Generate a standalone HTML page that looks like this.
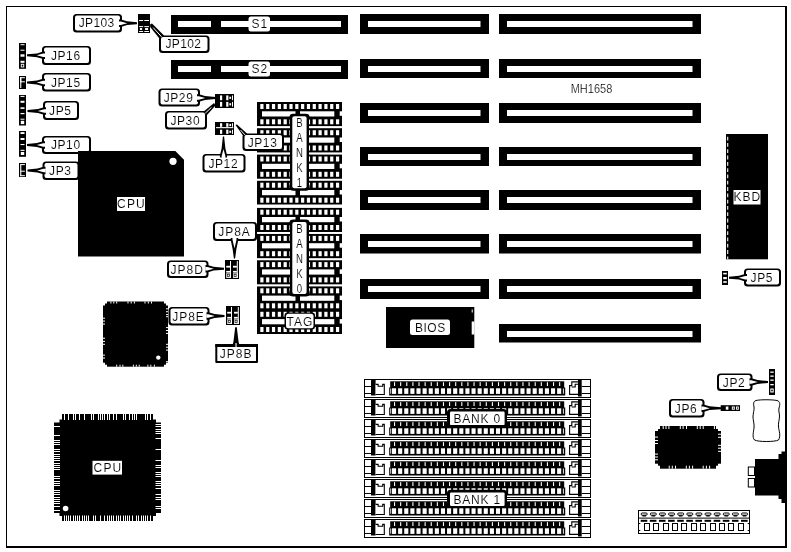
<!DOCTYPE html>
<html><head><meta charset="utf-8"><title>MH1658</title>
<style>
html,body{margin:0;padding:0;background:#fff;}
body{width:791px;height:552px;overflow:hidden;}
svg{display:block;font-family:"Liberation Sans",sans-serif;will-change:transform;}
text{stroke:#fff;stroke-width:0.12px;}
</style></head><body>
<svg width="791" height="552" viewBox="0 0 791 552">
<rect x="0" y="0" width="791" height="552" fill="#fff"/>
<rect x="6" y="6" width="781" height="1" fill="#000"/>
<rect x="6" y="6" width="1" height="542" fill="#000"/>
<rect x="785" y="6" width="2" height="542" fill="#000"/>
<rect x="6" y="546" width="781" height="2" fill="#000"/>
<rect x="171" y="15" width="177" height="19" fill="#000"/>
<rect x="178" y="21" width="33" height="6" fill="#fff"/>
<rect x="221" y="21" width="120" height="6" fill="#fff"/>
<rect x="248.5" y="16.5" width="21.5" height="15" rx="2.5" fill="#fff"/>
<text x="259.8" y="28.3" font-size="12" letter-spacing="1" text-anchor="middle" fill="#000">S1</text>
<rect x="171" y="60" width="177" height="19" fill="#000"/>
<rect x="178" y="66" width="33" height="6" fill="#fff"/>
<rect x="221" y="66" width="120" height="6" fill="#fff"/>
<rect x="248.5" y="61.5" width="21.5" height="15" rx="2.5" fill="#fff"/>
<text x="259.8" y="73.3" font-size="12" letter-spacing="1" text-anchor="middle" fill="#000">S2</text>
<rect x="360" y="14" width="129" height="20" fill="#000"/>
<rect x="368" y="21" width="112.5" height="6" fill="#fff"/>
<rect x="360" y="59" width="129" height="19" fill="#000"/>
<rect x="368" y="66" width="112.5" height="6" fill="#fff"/>
<rect x="360" y="103" width="129" height="20" fill="#000"/>
<rect x="368" y="110" width="112.5" height="6" fill="#fff"/>
<rect x="360" y="147" width="129" height="19" fill="#000"/>
<rect x="368" y="154" width="112.5" height="6" fill="#fff"/>
<rect x="360" y="190" width="129" height="20" fill="#000"/>
<rect x="368" y="197" width="112.5" height="6" fill="#fff"/>
<rect x="360" y="234" width="129" height="19.5" fill="#000"/>
<rect x="368" y="241" width="112.5" height="6" fill="#fff"/>
<rect x="360" y="279" width="129" height="20" fill="#000"/>
<rect x="368" y="286" width="112.5" height="6" fill="#fff"/>
<rect x="499" y="14" width="202" height="20" fill="#000"/>
<rect x="507" y="21" width="185.5" height="6" fill="#fff"/>
<rect x="499" y="59" width="202" height="19" fill="#000"/>
<rect x="507" y="66" width="185.5" height="6" fill="#fff"/>
<rect x="499" y="103" width="202" height="20" fill="#000"/>
<rect x="507" y="110" width="185.5" height="6" fill="#fff"/>
<rect x="499" y="147" width="202" height="19" fill="#000"/>
<rect x="507" y="154" width="185.5" height="6" fill="#fff"/>
<rect x="499" y="190" width="202" height="20" fill="#000"/>
<rect x="507" y="197" width="185.5" height="6" fill="#fff"/>
<rect x="499" y="234" width="202" height="19.5" fill="#000"/>
<rect x="507" y="241" width="185.5" height="6" fill="#fff"/>
<rect x="499" y="279" width="202" height="20" fill="#000"/>
<rect x="507" y="286" width="185.5" height="6" fill="#fff"/>
<rect x="499" y="324" width="202" height="18.5" fill="#000"/>
<rect x="507" y="331" width="185.5" height="6" fill="#fff"/>
<rect x="257" y="102" width="85" height="24.3" fill="#000"/>
<rect x="260.3" y="104" width="3.2" height="5" fill="#fff"/>
<rect x="260.3" y="119.3" width="3.2" height="5" fill="#fff"/>
<rect x="266.12" y="104" width="3.2" height="5" fill="#fff"/>
<rect x="266.12" y="119.3" width="3.2" height="5" fill="#fff"/>
<rect x="271.94" y="104" width="3.2" height="5" fill="#fff"/>
<rect x="271.94" y="119.3" width="3.2" height="5" fill="#fff"/>
<rect x="277.76" y="104" width="3.2" height="5" fill="#fff"/>
<rect x="277.76" y="119.3" width="3.2" height="5" fill="#fff"/>
<rect x="283.58" y="104" width="3.2" height="5" fill="#fff"/>
<rect x="283.58" y="119.3" width="3.2" height="5" fill="#fff"/>
<rect x="289.4" y="104" width="3.2" height="5" fill="#fff"/>
<rect x="289.4" y="119.3" width="3.2" height="5" fill="#fff"/>
<rect x="295.22" y="104" width="3.2" height="5" fill="#fff"/>
<rect x="295.22" y="119.3" width="3.2" height="5" fill="#fff"/>
<rect x="301.04" y="104" width="3.2" height="5" fill="#fff"/>
<rect x="301.04" y="119.3" width="3.2" height="5" fill="#fff"/>
<rect x="306.86" y="104" width="3.2" height="5" fill="#fff"/>
<rect x="306.86" y="119.3" width="3.2" height="5" fill="#fff"/>
<rect x="312.68" y="104" width="3.2" height="5" fill="#fff"/>
<rect x="312.68" y="119.3" width="3.2" height="5" fill="#fff"/>
<rect x="318.5" y="104" width="3.2" height="5" fill="#fff"/>
<rect x="318.5" y="119.3" width="3.2" height="5" fill="#fff"/>
<rect x="324.32" y="104" width="3.2" height="5" fill="#fff"/>
<rect x="324.32" y="119.3" width="3.2" height="5" fill="#fff"/>
<rect x="330.14" y="104" width="3.2" height="5" fill="#fff"/>
<rect x="330.14" y="119.3" width="3.2" height="5" fill="#fff"/>
<rect x="335.96" y="104" width="3.2" height="5" fill="#fff"/>
<rect x="335.96" y="119.3" width="3.2" height="5" fill="#fff"/>
<rect x="262" y="111.3" width="72.3" height="5.2" fill="#fff"/>
<rect x="339.7" y="111.3" width="2.3" height="4.5" fill="#fff"/>
<rect x="295.5" y="110" width="4.5" height="8" fill="#000"/>
<rect x="257" y="128.2" width="85" height="24.3" fill="#000"/>
<rect x="260.3" y="130.2" width="3.2" height="5" fill="#fff"/>
<rect x="260.3" y="145.5" width="3.2" height="5" fill="#fff"/>
<rect x="266.12" y="130.2" width="3.2" height="5" fill="#fff"/>
<rect x="266.12" y="145.5" width="3.2" height="5" fill="#fff"/>
<rect x="271.94" y="130.2" width="3.2" height="5" fill="#fff"/>
<rect x="271.94" y="145.5" width="3.2" height="5" fill="#fff"/>
<rect x="277.76" y="130.2" width="3.2" height="5" fill="#fff"/>
<rect x="277.76" y="145.5" width="3.2" height="5" fill="#fff"/>
<rect x="283.58" y="130.2" width="3.2" height="5" fill="#fff"/>
<rect x="283.58" y="145.5" width="3.2" height="5" fill="#fff"/>
<rect x="289.4" y="130.2" width="3.2" height="5" fill="#fff"/>
<rect x="289.4" y="145.5" width="3.2" height="5" fill="#fff"/>
<rect x="295.22" y="130.2" width="3.2" height="5" fill="#fff"/>
<rect x="295.22" y="145.5" width="3.2" height="5" fill="#fff"/>
<rect x="301.04" y="130.2" width="3.2" height="5" fill="#fff"/>
<rect x="301.04" y="145.5" width="3.2" height="5" fill="#fff"/>
<rect x="306.86" y="130.2" width="3.2" height="5" fill="#fff"/>
<rect x="306.86" y="145.5" width="3.2" height="5" fill="#fff"/>
<rect x="312.68" y="130.2" width="3.2" height="5" fill="#fff"/>
<rect x="312.68" y="145.5" width="3.2" height="5" fill="#fff"/>
<rect x="318.5" y="130.2" width="3.2" height="5" fill="#fff"/>
<rect x="318.5" y="145.5" width="3.2" height="5" fill="#fff"/>
<rect x="324.32" y="130.2" width="3.2" height="5" fill="#fff"/>
<rect x="324.32" y="145.5" width="3.2" height="5" fill="#fff"/>
<rect x="330.14" y="130.2" width="3.2" height="5" fill="#fff"/>
<rect x="330.14" y="145.5" width="3.2" height="5" fill="#fff"/>
<rect x="335.96" y="130.2" width="3.2" height="5" fill="#fff"/>
<rect x="335.96" y="145.5" width="3.2" height="5" fill="#fff"/>
<rect x="262" y="137.5" width="72.3" height="5.2" fill="#fff"/>
<rect x="339.7" y="137.5" width="2.3" height="4.5" fill="#fff"/>
<rect x="257" y="154.5" width="85" height="24.3" fill="#000"/>
<rect x="260.3" y="156.5" width="3.2" height="5" fill="#fff"/>
<rect x="260.3" y="171.8" width="3.2" height="5" fill="#fff"/>
<rect x="266.12" y="156.5" width="3.2" height="5" fill="#fff"/>
<rect x="266.12" y="171.8" width="3.2" height="5" fill="#fff"/>
<rect x="271.94" y="156.5" width="3.2" height="5" fill="#fff"/>
<rect x="271.94" y="171.8" width="3.2" height="5" fill="#fff"/>
<rect x="277.76" y="156.5" width="3.2" height="5" fill="#fff"/>
<rect x="277.76" y="171.8" width="3.2" height="5" fill="#fff"/>
<rect x="283.58" y="156.5" width="3.2" height="5" fill="#fff"/>
<rect x="283.58" y="171.8" width="3.2" height="5" fill="#fff"/>
<rect x="289.4" y="156.5" width="3.2" height="5" fill="#fff"/>
<rect x="289.4" y="171.8" width="3.2" height="5" fill="#fff"/>
<rect x="295.22" y="156.5" width="3.2" height="5" fill="#fff"/>
<rect x="295.22" y="171.8" width="3.2" height="5" fill="#fff"/>
<rect x="301.04" y="156.5" width="3.2" height="5" fill="#fff"/>
<rect x="301.04" y="171.8" width="3.2" height="5" fill="#fff"/>
<rect x="306.86" y="156.5" width="3.2" height="5" fill="#fff"/>
<rect x="306.86" y="171.8" width="3.2" height="5" fill="#fff"/>
<rect x="312.68" y="156.5" width="3.2" height="5" fill="#fff"/>
<rect x="312.68" y="171.8" width="3.2" height="5" fill="#fff"/>
<rect x="318.5" y="156.5" width="3.2" height="5" fill="#fff"/>
<rect x="318.5" y="171.8" width="3.2" height="5" fill="#fff"/>
<rect x="324.32" y="156.5" width="3.2" height="5" fill="#fff"/>
<rect x="324.32" y="171.8" width="3.2" height="5" fill="#fff"/>
<rect x="330.14" y="156.5" width="3.2" height="5" fill="#fff"/>
<rect x="330.14" y="171.8" width="3.2" height="5" fill="#fff"/>
<rect x="335.96" y="156.5" width="3.2" height="5" fill="#fff"/>
<rect x="335.96" y="171.8" width="3.2" height="5" fill="#fff"/>
<rect x="262" y="163.8" width="72.3" height="5.2" fill="#fff"/>
<rect x="339.7" y="163.8" width="2.3" height="4.5" fill="#fff"/>
<rect x="257" y="180.7" width="85" height="24" fill="#000"/>
<rect x="260.3" y="182.7" width="3.2" height="5" fill="#fff"/>
<rect x="260.3" y="197.7" width="3.2" height="5" fill="#fff"/>
<rect x="266.12" y="182.7" width="3.2" height="5" fill="#fff"/>
<rect x="266.12" y="197.7" width="3.2" height="5" fill="#fff"/>
<rect x="271.94" y="182.7" width="3.2" height="5" fill="#fff"/>
<rect x="271.94" y="197.7" width="3.2" height="5" fill="#fff"/>
<rect x="277.76" y="182.7" width="3.2" height="5" fill="#fff"/>
<rect x="277.76" y="197.7" width="3.2" height="5" fill="#fff"/>
<rect x="283.58" y="182.7" width="3.2" height="5" fill="#fff"/>
<rect x="283.58" y="197.7" width="3.2" height="5" fill="#fff"/>
<rect x="289.4" y="182.7" width="3.2" height="5" fill="#fff"/>
<rect x="289.4" y="197.7" width="3.2" height="5" fill="#fff"/>
<rect x="295.22" y="182.7" width="3.2" height="5" fill="#fff"/>
<rect x="295.22" y="197.7" width="3.2" height="5" fill="#fff"/>
<rect x="301.04" y="182.7" width="3.2" height="5" fill="#fff"/>
<rect x="301.04" y="197.7" width="3.2" height="5" fill="#fff"/>
<rect x="306.86" y="182.7" width="3.2" height="5" fill="#fff"/>
<rect x="306.86" y="197.7" width="3.2" height="5" fill="#fff"/>
<rect x="312.68" y="182.7" width="3.2" height="5" fill="#fff"/>
<rect x="312.68" y="197.7" width="3.2" height="5" fill="#fff"/>
<rect x="318.5" y="182.7" width="3.2" height="5" fill="#fff"/>
<rect x="318.5" y="197.7" width="3.2" height="5" fill="#fff"/>
<rect x="324.32" y="182.7" width="3.2" height="5" fill="#fff"/>
<rect x="324.32" y="197.7" width="3.2" height="5" fill="#fff"/>
<rect x="330.14" y="182.7" width="3.2" height="5" fill="#fff"/>
<rect x="330.14" y="197.7" width="3.2" height="5" fill="#fff"/>
<rect x="335.96" y="182.7" width="3.2" height="5" fill="#fff"/>
<rect x="335.96" y="197.7" width="3.2" height="5" fill="#fff"/>
<rect x="262" y="190" width="72.3" height="5.2" fill="#fff"/>
<rect x="339.7" y="190" width="2.3" height="4.5" fill="#fff"/>
<rect x="295.5" y="188.7" width="4.5" height="8" fill="#000"/>
<rect x="257" y="207.7" width="85" height="24.3" fill="#000"/>
<rect x="260.3" y="209.7" width="3.2" height="5" fill="#fff"/>
<rect x="260.3" y="225" width="3.2" height="5" fill="#fff"/>
<rect x="266.12" y="209.7" width="3.2" height="5" fill="#fff"/>
<rect x="266.12" y="225" width="3.2" height="5" fill="#fff"/>
<rect x="271.94" y="209.7" width="3.2" height="5" fill="#fff"/>
<rect x="271.94" y="225" width="3.2" height="5" fill="#fff"/>
<rect x="277.76" y="209.7" width="3.2" height="5" fill="#fff"/>
<rect x="277.76" y="225" width="3.2" height="5" fill="#fff"/>
<rect x="283.58" y="209.7" width="3.2" height="5" fill="#fff"/>
<rect x="283.58" y="225" width="3.2" height="5" fill="#fff"/>
<rect x="289.4" y="209.7" width="3.2" height="5" fill="#fff"/>
<rect x="289.4" y="225" width="3.2" height="5" fill="#fff"/>
<rect x="295.22" y="209.7" width="3.2" height="5" fill="#fff"/>
<rect x="295.22" y="225" width="3.2" height="5" fill="#fff"/>
<rect x="301.04" y="209.7" width="3.2" height="5" fill="#fff"/>
<rect x="301.04" y="225" width="3.2" height="5" fill="#fff"/>
<rect x="306.86" y="209.7" width="3.2" height="5" fill="#fff"/>
<rect x="306.86" y="225" width="3.2" height="5" fill="#fff"/>
<rect x="312.68" y="209.7" width="3.2" height="5" fill="#fff"/>
<rect x="312.68" y="225" width="3.2" height="5" fill="#fff"/>
<rect x="318.5" y="209.7" width="3.2" height="5" fill="#fff"/>
<rect x="318.5" y="225" width="3.2" height="5" fill="#fff"/>
<rect x="324.32" y="209.7" width="3.2" height="5" fill="#fff"/>
<rect x="324.32" y="225" width="3.2" height="5" fill="#fff"/>
<rect x="330.14" y="209.7" width="3.2" height="5" fill="#fff"/>
<rect x="330.14" y="225" width="3.2" height="5" fill="#fff"/>
<rect x="335.96" y="209.7" width="3.2" height="5" fill="#fff"/>
<rect x="335.96" y="225" width="3.2" height="5" fill="#fff"/>
<rect x="262" y="217" width="72.3" height="5.2" fill="#fff"/>
<rect x="339.7" y="217" width="2.3" height="4.5" fill="#fff"/>
<rect x="295.5" y="215.7" width="4.5" height="8" fill="#000"/>
<rect x="257" y="233.9" width="85" height="24.3" fill="#000"/>
<rect x="260.3" y="235.9" width="3.2" height="5" fill="#fff"/>
<rect x="260.3" y="251.2" width="3.2" height="5" fill="#fff"/>
<rect x="266.12" y="235.9" width="3.2" height="5" fill="#fff"/>
<rect x="266.12" y="251.2" width="3.2" height="5" fill="#fff"/>
<rect x="271.94" y="235.9" width="3.2" height="5" fill="#fff"/>
<rect x="271.94" y="251.2" width="3.2" height="5" fill="#fff"/>
<rect x="277.76" y="235.9" width="3.2" height="5" fill="#fff"/>
<rect x="277.76" y="251.2" width="3.2" height="5" fill="#fff"/>
<rect x="283.58" y="235.9" width="3.2" height="5" fill="#fff"/>
<rect x="283.58" y="251.2" width="3.2" height="5" fill="#fff"/>
<rect x="289.4" y="235.9" width="3.2" height="5" fill="#fff"/>
<rect x="289.4" y="251.2" width="3.2" height="5" fill="#fff"/>
<rect x="295.22" y="235.9" width="3.2" height="5" fill="#fff"/>
<rect x="295.22" y="251.2" width="3.2" height="5" fill="#fff"/>
<rect x="301.04" y="235.9" width="3.2" height="5" fill="#fff"/>
<rect x="301.04" y="251.2" width="3.2" height="5" fill="#fff"/>
<rect x="306.86" y="235.9" width="3.2" height="5" fill="#fff"/>
<rect x="306.86" y="251.2" width="3.2" height="5" fill="#fff"/>
<rect x="312.68" y="235.9" width="3.2" height="5" fill="#fff"/>
<rect x="312.68" y="251.2" width="3.2" height="5" fill="#fff"/>
<rect x="318.5" y="235.9" width="3.2" height="5" fill="#fff"/>
<rect x="318.5" y="251.2" width="3.2" height="5" fill="#fff"/>
<rect x="324.32" y="235.9" width="3.2" height="5" fill="#fff"/>
<rect x="324.32" y="251.2" width="3.2" height="5" fill="#fff"/>
<rect x="330.14" y="235.9" width="3.2" height="5" fill="#fff"/>
<rect x="330.14" y="251.2" width="3.2" height="5" fill="#fff"/>
<rect x="335.96" y="235.9" width="3.2" height="5" fill="#fff"/>
<rect x="335.96" y="251.2" width="3.2" height="5" fill="#fff"/>
<rect x="262" y="243.2" width="72.3" height="5.2" fill="#fff"/>
<rect x="339.7" y="243.2" width="2.3" height="4.5" fill="#fff"/>
<rect x="257" y="260.1" width="85" height="24.3" fill="#000"/>
<rect x="260.3" y="262.1" width="3.2" height="5" fill="#fff"/>
<rect x="260.3" y="277.4" width="3.2" height="5" fill="#fff"/>
<rect x="266.12" y="262.1" width="3.2" height="5" fill="#fff"/>
<rect x="266.12" y="277.4" width="3.2" height="5" fill="#fff"/>
<rect x="271.94" y="262.1" width="3.2" height="5" fill="#fff"/>
<rect x="271.94" y="277.4" width="3.2" height="5" fill="#fff"/>
<rect x="277.76" y="262.1" width="3.2" height="5" fill="#fff"/>
<rect x="277.76" y="277.4" width="3.2" height="5" fill="#fff"/>
<rect x="283.58" y="262.1" width="3.2" height="5" fill="#fff"/>
<rect x="283.58" y="277.4" width="3.2" height="5" fill="#fff"/>
<rect x="289.4" y="262.1" width="3.2" height="5" fill="#fff"/>
<rect x="289.4" y="277.4" width="3.2" height="5" fill="#fff"/>
<rect x="295.22" y="262.1" width="3.2" height="5" fill="#fff"/>
<rect x="295.22" y="277.4" width="3.2" height="5" fill="#fff"/>
<rect x="301.04" y="262.1" width="3.2" height="5" fill="#fff"/>
<rect x="301.04" y="277.4" width="3.2" height="5" fill="#fff"/>
<rect x="306.86" y="262.1" width="3.2" height="5" fill="#fff"/>
<rect x="306.86" y="277.4" width="3.2" height="5" fill="#fff"/>
<rect x="312.68" y="262.1" width="3.2" height="5" fill="#fff"/>
<rect x="312.68" y="277.4" width="3.2" height="5" fill="#fff"/>
<rect x="318.5" y="262.1" width="3.2" height="5" fill="#fff"/>
<rect x="318.5" y="277.4" width="3.2" height="5" fill="#fff"/>
<rect x="324.32" y="262.1" width="3.2" height="5" fill="#fff"/>
<rect x="324.32" y="277.4" width="3.2" height="5" fill="#fff"/>
<rect x="330.14" y="262.1" width="3.2" height="5" fill="#fff"/>
<rect x="330.14" y="277.4" width="3.2" height="5" fill="#fff"/>
<rect x="335.96" y="262.1" width="3.2" height="5" fill="#fff"/>
<rect x="335.96" y="277.4" width="3.2" height="5" fill="#fff"/>
<rect x="262" y="269.4" width="72.3" height="5.2" fill="#fff"/>
<rect x="339.7" y="269.4" width="2.3" height="4.5" fill="#fff"/>
<rect x="257" y="286.3" width="85" height="24" fill="#000"/>
<rect x="260.3" y="288.3" width="3.2" height="5" fill="#fff"/>
<rect x="260.3" y="303.3" width="3.2" height="5" fill="#fff"/>
<rect x="266.12" y="288.3" width="3.2" height="5" fill="#fff"/>
<rect x="266.12" y="303.3" width="3.2" height="5" fill="#fff"/>
<rect x="271.94" y="288.3" width="3.2" height="5" fill="#fff"/>
<rect x="271.94" y="303.3" width="3.2" height="5" fill="#fff"/>
<rect x="277.76" y="288.3" width="3.2" height="5" fill="#fff"/>
<rect x="277.76" y="303.3" width="3.2" height="5" fill="#fff"/>
<rect x="283.58" y="288.3" width="3.2" height="5" fill="#fff"/>
<rect x="283.58" y="303.3" width="3.2" height="5" fill="#fff"/>
<rect x="289.4" y="288.3" width="3.2" height="5" fill="#fff"/>
<rect x="289.4" y="303.3" width="3.2" height="5" fill="#fff"/>
<rect x="295.22" y="288.3" width="3.2" height="5" fill="#fff"/>
<rect x="295.22" y="303.3" width="3.2" height="5" fill="#fff"/>
<rect x="301.04" y="288.3" width="3.2" height="5" fill="#fff"/>
<rect x="301.04" y="303.3" width="3.2" height="5" fill="#fff"/>
<rect x="306.86" y="288.3" width="3.2" height="5" fill="#fff"/>
<rect x="306.86" y="303.3" width="3.2" height="5" fill="#fff"/>
<rect x="312.68" y="288.3" width="3.2" height="5" fill="#fff"/>
<rect x="312.68" y="303.3" width="3.2" height="5" fill="#fff"/>
<rect x="318.5" y="288.3" width="3.2" height="5" fill="#fff"/>
<rect x="318.5" y="303.3" width="3.2" height="5" fill="#fff"/>
<rect x="324.32" y="288.3" width="3.2" height="5" fill="#fff"/>
<rect x="324.32" y="303.3" width="3.2" height="5" fill="#fff"/>
<rect x="330.14" y="288.3" width="3.2" height="5" fill="#fff"/>
<rect x="330.14" y="303.3" width="3.2" height="5" fill="#fff"/>
<rect x="335.96" y="288.3" width="3.2" height="5" fill="#fff"/>
<rect x="335.96" y="303.3" width="3.2" height="5" fill="#fff"/>
<rect x="262" y="295.6" width="72.3" height="5.2" fill="#fff"/>
<rect x="339.7" y="295.6" width="2.3" height="4.5" fill="#fff"/>
<rect x="295.5" y="294.3" width="4.5" height="8" fill="#000"/>
<rect x="257" y="126.3" width="85" height="1.4" fill="#fff"/>
<rect x="257" y="152.8" width="85" height="1.4" fill="#fff"/>
<rect x="257" y="178.9" width="85" height="1.4" fill="#fff"/>
<rect x="257" y="232.2" width="85" height="1.4" fill="#fff"/>
<rect x="257" y="258.8" width="85" height="1.4" fill="#fff"/>
<rect x="257" y="284.8" width="85" height="1.4" fill="#fff"/>
<rect x="257" y="204.7" width="85" height="3" fill="#fff"/>
<rect x="257" y="309.8" width="85" height="24.2" fill="#000"/>
<rect x="260.3" y="311.8" width="3.2" height="5" fill="#fff"/>
<rect x="260.3" y="327" width="3.2" height="5" fill="#fff"/>
<rect x="266.12" y="311.8" width="3.2" height="5" fill="#fff"/>
<rect x="266.12" y="327" width="3.2" height="5" fill="#fff"/>
<rect x="271.94" y="311.8" width="3.2" height="5" fill="#fff"/>
<rect x="271.94" y="327" width="3.2" height="5" fill="#fff"/>
<rect x="277.76" y="311.8" width="3.2" height="5" fill="#fff"/>
<rect x="277.76" y="327" width="3.2" height="5" fill="#fff"/>
<rect x="283.58" y="311.8" width="3.2" height="5" fill="#fff"/>
<rect x="283.58" y="327" width="3.2" height="5" fill="#fff"/>
<rect x="289.4" y="311.8" width="3.2" height="5" fill="#fff"/>
<rect x="289.4" y="327" width="3.2" height="5" fill="#fff"/>
<rect x="295.22" y="311.8" width="3.2" height="5" fill="#fff"/>
<rect x="295.22" y="327" width="3.2" height="5" fill="#fff"/>
<rect x="301.04" y="311.8" width="3.2" height="5" fill="#fff"/>
<rect x="301.04" y="327" width="3.2" height="5" fill="#fff"/>
<rect x="306.86" y="311.8" width="3.2" height="5" fill="#fff"/>
<rect x="306.86" y="327" width="3.2" height="5" fill="#fff"/>
<rect x="312.68" y="311.8" width="3.2" height="5" fill="#fff"/>
<rect x="312.68" y="327" width="3.2" height="5" fill="#fff"/>
<rect x="318.5" y="311.8" width="3.2" height="5" fill="#fff"/>
<rect x="318.5" y="327" width="3.2" height="5" fill="#fff"/>
<rect x="324.32" y="311.8" width="3.2" height="5" fill="#fff"/>
<rect x="324.32" y="327" width="3.2" height="5" fill="#fff"/>
<rect x="330.14" y="311.8" width="3.2" height="5" fill="#fff"/>
<rect x="330.14" y="327" width="3.2" height="5" fill="#fff"/>
<rect x="335.96" y="311.8" width="3.2" height="5" fill="#fff"/>
<rect x="335.96" y="327" width="3.2" height="5" fill="#fff"/>
<rect x="262" y="319.1" width="72.3" height="5.2" fill="#fff"/>
<rect x="339.7" y="319.1" width="2.3" height="4.5" fill="#fff"/>
<rect x="289.3" y="113.8" width="20.4" height="8" rx="4" fill="#000"/>
<rect x="289.3" y="182.7" width="20.4" height="8" rx="4" fill="#000"/>
<rect x="290" y="114.8" width="19" height="74.9" fill="#000"/>
<rect x="292.3" y="116.3" width="14.3" height="71.9" rx="2" fill="#fff"/>
<text transform="translate(299.4,126.9) scale(0.8,1)" font-size="12" text-anchor="middle">B</text>
<text transform="translate(299.4,142) scale(0.8,1)" font-size="12" text-anchor="middle">A</text>
<text transform="translate(299.4,157.1) scale(0.8,1)" font-size="12" text-anchor="middle">N</text>
<text transform="translate(299.4,171.9) scale(0.8,1)" font-size="12" text-anchor="middle">K</text>
<text transform="translate(299.4,187) scale(0.8,1)" font-size="12" text-anchor="middle">1</text>
<rect x="289.3" y="219.6" width="20.4" height="8" rx="4" fill="#000"/>
<rect x="289.3" y="288.4" width="20.4" height="8" rx="4" fill="#000"/>
<rect x="290" y="220.6" width="19" height="74.8" fill="#000"/>
<rect x="292.3" y="222.1" width="14.3" height="71.8" rx="2" fill="#fff"/>
<text transform="translate(299.4,232.6) scale(0.8,1)" font-size="12" text-anchor="middle">B</text>
<text transform="translate(299.4,247.8) scale(0.8,1)" font-size="12" text-anchor="middle">A</text>
<text transform="translate(299.4,263) scale(0.8,1)" font-size="12" text-anchor="middle">N</text>
<text transform="translate(299.4,278.3) scale(0.8,1)" font-size="12" text-anchor="middle">K</text>
<text transform="translate(299.4,293.3) scale(0.8,1)" font-size="12" text-anchor="middle">0</text>
<rect x="284.5" y="312.5" width="30.5" height="17" rx="3" fill="#000"/>
<rect x="286" y="313.8" width="27.5" height="14.4" rx="2.5" fill="#fff"/>
<text x="300" y="325.5" font-size="12" letter-spacing="1" text-anchor="middle" fill="#000">TAG</text>
<rect x="726" y="134" width="42" height="125.3" fill="#000"/>
<line x1="727.7" y1="136.7" x2="727.7" y2="259" stroke="#fff" stroke-width="1.1" stroke-dasharray="3.8 2.5"/>
<rect x="733.5" y="190" width="27" height="14.5" fill="#fff"/>
<text x="747.3" y="200.8" font-size="12" letter-spacing="0.9" text-anchor="middle" fill="#000">KBD</text>
<rect x="722" y="271" width="6" height="14" fill="#000"/>
<rect x="723.2" y="272.8" width="3.6" height="1.6" fill="#fff"/>
<rect x="723.2" y="277" width="3.6" height="2.2" fill="#fff"/>
<rect x="723.2" y="281.2" width="3.6" height="1.6" fill="#fff"/>
<rect x="744" y="268.5" width="37" height="18" rx="3.5" fill="#000"/>
<rect x="746" y="270" width="33" height="14.5" rx="2" fill="#fff"/>
<text x="761.8" y="281.8" font-size="12" letter-spacing="0.6" text-anchor="middle" fill="#000">JP5</text>
<polygon points="747,274 745,274 739,275.8 729,276.75 729,278.65 739,279.6 745,281.4 747,281.4" fill="#000"/>
<polygon points="747.2,276 745.2,276 738.7,277.7 745.2,279.4 747.2,279.4" fill="#fff"/>
<rect x="386" y="307" width="88.3" height="41" fill="#000"/>
<rect x="471.7" y="321.5" width="2.8" height="13" fill="#fff"/>
<rect x="471.7" y="309.5" width="1" height="3" fill="#fff"/>
<rect x="410" y="319.5" width="40" height="15.5" rx="2.5" fill="#fff"/>
<text x="430.3" y="331.9" font-size="12" letter-spacing="0.5" text-anchor="middle" fill="#000">BIOS</text>
<rect x="105" y="303.5" width="61" height="61.2" fill="#000"/>
<rect x="107" y="301.5" width="57" height="65.2" fill="#000"/>
<rect x="103" y="305.5" width="65" height="57.2" fill="#000"/>
<rect x="110.4" y="301.5" width="1" height="2" fill="#fff"/>
<rect x="113.3" y="301.5" width="1" height="2" fill="#fff"/>
<rect x="116.2" y="301.5" width="1" height="2" fill="#fff"/>
<rect x="127.5" y="301.5" width="1" height="2" fill="#fff"/>
<rect x="130.7" y="301.5" width="1" height="2" fill="#fff"/>
<rect x="133.9" y="301.5" width="1" height="2" fill="#fff"/>
<rect x="144.5" y="301.5" width="1" height="2" fill="#fff"/>
<rect x="147.8" y="301.5" width="1" height="2" fill="#fff"/>
<rect x="151" y="301.5" width="1" height="2" fill="#fff"/>
<rect x="116.2" y="364.7" width="1" height="2" fill="#fff"/>
<rect x="119.5" y="364.7" width="1" height="2" fill="#fff"/>
<rect x="122.3" y="364.7" width="1" height="2" fill="#fff"/>
<rect x="132.9" y="364.7" width="1" height="2" fill="#fff"/>
<rect x="135.8" y="364.7" width="1" height="2" fill="#fff"/>
<rect x="138.7" y="364.7" width="1" height="2" fill="#fff"/>
<rect x="147.4" y="364.7" width="1" height="2" fill="#fff"/>
<rect x="150.3" y="364.7" width="1" height="2" fill="#fff"/>
<rect x="153.9" y="364.7" width="1" height="2" fill="#fff"/>
<rect x="103" y="317.7" width="2" height="1" fill="#fff"/>
<rect x="103" y="320.6" width="2" height="1" fill="#fff"/>
<rect x="103" y="323.5" width="2" height="1" fill="#fff"/>
<rect x="103" y="337.7" width="2" height="1" fill="#fff"/>
<rect x="103" y="340.9" width="2" height="1" fill="#fff"/>
<rect x="103" y="343.8" width="2" height="1" fill="#fff"/>
<rect x="103" y="354.6" width="2" height="1" fill="#fff"/>
<rect x="103" y="357.5" width="2" height="1" fill="#fff"/>
<rect x="166" y="308.3" width="2" height="1" fill="#fff"/>
<rect x="166" y="311.2" width="2" height="1" fill="#fff"/>
<rect x="166" y="314.1" width="2" height="1" fill="#fff"/>
<rect x="166" y="316.2" width="2" height="1" fill="#fff"/>
<rect x="166" y="327.1" width="2" height="1" fill="#fff"/>
<rect x="166" y="330" width="2" height="1" fill="#fff"/>
<rect x="166" y="332.9" width="2" height="1" fill="#fff"/>
<rect x="166" y="343.8" width="2" height="1" fill="#fff"/>
<rect x="166" y="346.7" width="2" height="1" fill="#fff"/>
<rect x="166" y="349.6" width="2" height="1" fill="#fff"/>
<rect x="166" y="361.2" width="2" height="1" fill="#fff"/>
<circle cx="158.3" cy="357.6" r="2.2" fill="#fff"/>
<rect x="59.5" y="419.5" width="96.5" height="96.5" fill="#000"/>
<rect x="62" y="414" width="91" height="6" fill="#000"/>
<rect x="64" y="414" width="1" height="6" fill="#fff"/>
<rect x="68" y="414" width="1" height="6" fill="#fff"/>
<rect x="73" y="414" width="1" height="6" fill="#fff"/>
<rect x="75" y="414" width="1" height="6" fill="#fff"/>
<rect x="79" y="414" width="1" height="6" fill="#fff"/>
<rect x="84" y="414" width="1" height="6" fill="#fff"/>
<rect x="91" y="414" width="1" height="6" fill="#fff"/>
<rect x="93" y="414" width="1" height="6" fill="#fff"/>
<rect x="98" y="414" width="1" height="6" fill="#fff"/>
<rect x="100" y="414" width="1" height="6" fill="#fff"/>
<rect x="102" y="414" width="1" height="6" fill="#fff"/>
<rect x="104" y="414" width="1" height="6" fill="#fff"/>
<rect x="107" y="414" width="1" height="6" fill="#fff"/>
<rect x="109" y="414" width="1" height="6" fill="#fff"/>
<rect x="113" y="414" width="1" height="6" fill="#fff"/>
<rect x="116" y="414" width="1" height="6" fill="#fff"/>
<rect x="123" y="414" width="1" height="6" fill="#fff"/>
<rect x="125" y="414" width="1" height="6" fill="#fff"/>
<rect x="129" y="414" width="1" height="6" fill="#fff"/>
<rect x="132" y="414" width="1" height="6" fill="#fff"/>
<rect x="134" y="414" width="1" height="6" fill="#fff"/>
<rect x="136" y="414" width="1" height="6" fill="#fff"/>
<rect x="145" y="414" width="1" height="6" fill="#fff"/>
<rect x="147" y="414" width="1" height="6" fill="#fff"/>
<rect x="150" y="414" width="1" height="6" fill="#fff"/>
<rect x="62" y="515.5" width="91" height="5.5" fill="#000"/>
<rect x="64" y="515.5" width="1" height="5.5" fill="#fff"/>
<rect x="66" y="515.5" width="1" height="5.5" fill="#fff"/>
<rect x="68" y="515.5" width="1" height="5.5" fill="#fff"/>
<rect x="70" y="515.5" width="1" height="5.5" fill="#fff"/>
<rect x="73" y="515.5" width="1" height="5.5" fill="#fff"/>
<rect x="75" y="515.5" width="1" height="5.5" fill="#fff"/>
<rect x="77" y="515.5" width="1" height="5.5" fill="#fff"/>
<rect x="79" y="515.5" width="1" height="5.5" fill="#fff"/>
<rect x="82" y="515.5" width="1" height="5.5" fill="#fff"/>
<rect x="84" y="515.5" width="1" height="5.5" fill="#fff"/>
<rect x="86" y="515.5" width="1" height="5.5" fill="#fff"/>
<rect x="88" y="515.5" width="1" height="5.5" fill="#fff"/>
<rect x="93" y="515.5" width="1" height="5.5" fill="#fff"/>
<rect x="95" y="515.5" width="1" height="5.5" fill="#fff"/>
<rect x="100" y="515.5" width="1" height="5.5" fill="#fff"/>
<rect x="104" y="515.5" width="1" height="5.5" fill="#fff"/>
<rect x="107" y="515.5" width="1" height="5.5" fill="#fff"/>
<rect x="109" y="515.5" width="1" height="5.5" fill="#fff"/>
<rect x="111" y="515.5" width="1" height="5.5" fill="#fff"/>
<rect x="113" y="515.5" width="1" height="5.5" fill="#fff"/>
<rect x="116" y="515.5" width="1" height="5.5" fill="#fff"/>
<rect x="118" y="515.5" width="1" height="5.5" fill="#fff"/>
<rect x="120" y="515.5" width="1" height="5.5" fill="#fff"/>
<rect x="123" y="515.5" width="1" height="5.5" fill="#fff"/>
<rect x="125" y="515.5" width="1" height="5.5" fill="#fff"/>
<rect x="127" y="515.5" width="1" height="5.5" fill="#fff"/>
<rect x="129" y="515.5" width="1" height="5.5" fill="#fff"/>
<rect x="132" y="515.5" width="1" height="5.5" fill="#fff"/>
<rect x="136" y="515.5" width="1" height="5.5" fill="#fff"/>
<rect x="138" y="515.5" width="1" height="5.5" fill="#fff"/>
<rect x="141" y="515.5" width="1" height="5.5" fill="#fff"/>
<rect x="143" y="515.5" width="1" height="5.5" fill="#fff"/>
<rect x="145" y="515.5" width="1" height="5.5" fill="#fff"/>
<rect x="147" y="515.5" width="1" height="5.5" fill="#fff"/>
<rect x="150" y="515.5" width="1" height="5.5" fill="#fff"/>
<rect x="54" y="422.5" width="6" height="90.5" fill="#000"/>
<rect x="54" y="426" width="6" height="1" fill="#fff"/>
<rect x="54" y="435" width="6" height="1" fill="#fff"/>
<rect x="54" y="440" width="6" height="1" fill="#fff"/>
<rect x="54" y="442" width="6" height="1" fill="#fff"/>
<rect x="54" y="444" width="6" height="1" fill="#fff"/>
<rect x="54" y="449" width="6" height="1" fill="#fff"/>
<rect x="54" y="451" width="6" height="1" fill="#fff"/>
<rect x="54" y="454" width="6" height="1" fill="#fff"/>
<rect x="54" y="456" width="6" height="1" fill="#fff"/>
<rect x="54" y="458" width="6" height="1" fill="#fff"/>
<rect x="54" y="460" width="6" height="1" fill="#fff"/>
<rect x="54" y="463" width="6" height="1" fill="#fff"/>
<rect x="54" y="465" width="6" height="1" fill="#fff"/>
<rect x="54" y="467" width="6" height="1" fill="#fff"/>
<rect x="54" y="469" width="6" height="1" fill="#fff"/>
<rect x="54" y="476" width="6" height="1" fill="#fff"/>
<rect x="54" y="478" width="6" height="1" fill="#fff"/>
<rect x="54" y="481" width="6" height="1" fill="#fff"/>
<rect x="54" y="483" width="6" height="1" fill="#fff"/>
<rect x="54" y="485" width="6" height="1" fill="#fff"/>
<rect x="54" y="490" width="6" height="1" fill="#fff"/>
<rect x="54" y="492" width="6" height="1" fill="#fff"/>
<rect x="54" y="494" width="6" height="1" fill="#fff"/>
<rect x="54" y="497" width="6" height="1" fill="#fff"/>
<rect x="54" y="499" width="6" height="1" fill="#fff"/>
<rect x="54" y="501" width="6" height="1" fill="#fff"/>
<rect x="54" y="503" width="6" height="1" fill="#fff"/>
<rect x="54" y="506" width="6" height="1" fill="#fff"/>
<rect x="54" y="510" width="6" height="1" fill="#fff"/>
<rect x="155.5" y="422.5" width="5.5" height="90.5" fill="#000"/>
<rect x="155.5" y="424" width="5.5" height="1" fill="#fff"/>
<rect x="155.5" y="426" width="5.5" height="1" fill="#fff"/>
<rect x="155.5" y="429" width="5.5" height="1" fill="#fff"/>
<rect x="155.5" y="431" width="5.5" height="1" fill="#fff"/>
<rect x="155.5" y="433" width="5.5" height="1" fill="#fff"/>
<rect x="155.5" y="438" width="5.5" height="1" fill="#fff"/>
<rect x="155.5" y="449" width="5.5" height="1" fill="#fff"/>
<rect x="155.5" y="460" width="5.5" height="1" fill="#fff"/>
<rect x="155.5" y="465" width="5.5" height="1" fill="#fff"/>
<rect x="155.5" y="467" width="5.5" height="1" fill="#fff"/>
<rect x="155.5" y="472" width="5.5" height="1" fill="#fff"/>
<rect x="155.5" y="474" width="5.5" height="1" fill="#fff"/>
<rect x="155.5" y="476" width="5.5" height="1" fill="#fff"/>
<rect x="155.5" y="481" width="5.5" height="1" fill="#fff"/>
<rect x="155.5" y="483" width="5.5" height="1" fill="#fff"/>
<rect x="155.5" y="485" width="5.5" height="1" fill="#fff"/>
<rect x="155.5" y="488" width="5.5" height="1" fill="#fff"/>
<rect x="155.5" y="494" width="5.5" height="1" fill="#fff"/>
<rect x="155.5" y="497" width="5.5" height="1" fill="#fff"/>
<rect x="155.5" y="499" width="5.5" height="1" fill="#fff"/>
<rect x="155.5" y="506" width="5.5" height="1" fill="#fff"/>
<rect x="155.5" y="508" width="5.5" height="1" fill="#fff"/>
<rect x="92.5" y="460.8" width="29.5" height="13.8" fill="#fff"/>
<text x="108" y="472" font-size="12" letter-spacing="1.2" text-anchor="middle" fill="#000">CPU</text>
<circle cx="65.6" cy="508.5" r="2.8" fill="#fff"/>
<rect x="364.5" y="379.5" width="226" height="18" fill="#fff" stroke="#000" stroke-width="1"/>
<rect x="365" y="386" width="6" height="1" fill="#000"/>
<rect x="365" y="393" width="6" height="1" fill="#000"/>
<rect x="371" y="380" width="4.6" height="15.5" fill="#000"/>
<path d="M375.6 384.4 H378.1 V386.3 H382.7 V384.4 H384.3 V394.5 H375.6" fill="#fff" stroke="#000" stroke-width="1.1"/>
<rect x="389.2" y="387.5" width="176" height="8" fill="#000"/>
<rect x="390.2" y="381.3" width="174" height="7" fill="#000"/>
<rect x="392" y="388.3" width="4.1" height="5.6" fill="#fff"/>
<rect x="394" y="382.2" width="1.1" height="3.8" fill="#fff"/>
<rect x="398.115" y="388.3" width="4.1" height="5.6" fill="#fff"/>
<rect x="400.115" y="382.2" width="1.1" height="3.8" fill="#fff"/>
<rect x="404.23" y="388.3" width="4.1" height="5.6" fill="#fff"/>
<rect x="406.23" y="382.2" width="1.1" height="3.8" fill="#fff"/>
<rect x="410.345" y="388.3" width="4.1" height="5.6" fill="#fff"/>
<rect x="412.345" y="382.2" width="1.1" height="3.8" fill="#fff"/>
<rect x="416.46" y="388.3" width="4.1" height="5.6" fill="#fff"/>
<rect x="418.46" y="382.2" width="1.1" height="3.8" fill="#fff"/>
<rect x="422.575" y="388.3" width="4.1" height="5.6" fill="#fff"/>
<rect x="424.575" y="382.2" width="1.1" height="3.8" fill="#fff"/>
<rect x="428.69" y="388.3" width="4.1" height="5.6" fill="#fff"/>
<rect x="430.69" y="382.2" width="1.1" height="3.8" fill="#fff"/>
<rect x="434.805" y="388.3" width="4.1" height="5.6" fill="#fff"/>
<rect x="436.805" y="382.2" width="1.1" height="3.8" fill="#fff"/>
<rect x="440.92" y="388.3" width="4.1" height="5.6" fill="#fff"/>
<rect x="442.92" y="382.2" width="1.1" height="3.8" fill="#fff"/>
<rect x="447.035" y="388.3" width="4.1" height="5.6" fill="#fff"/>
<rect x="449.035" y="382.2" width="1.1" height="3.8" fill="#fff"/>
<rect x="453.15" y="388.3" width="4.1" height="5.6" fill="#fff"/>
<rect x="455.15" y="382.2" width="1.1" height="3.8" fill="#fff"/>
<rect x="459.265" y="388.3" width="4.1" height="5.6" fill="#fff"/>
<rect x="461.265" y="382.2" width="1.1" height="3.8" fill="#fff"/>
<rect x="465.38" y="388.3" width="4.1" height="5.6" fill="#fff"/>
<rect x="467.38" y="382.2" width="1.1" height="3.8" fill="#fff"/>
<rect x="471.495" y="388.3" width="4.1" height="5.6" fill="#fff"/>
<rect x="473.495" y="382.2" width="1.1" height="3.8" fill="#fff"/>
<rect x="477.61" y="388.3" width="4.1" height="5.6" fill="#fff"/>
<rect x="479.61" y="382.2" width="1.1" height="3.8" fill="#fff"/>
<rect x="483.725" y="388.3" width="4.1" height="5.6" fill="#fff"/>
<rect x="485.725" y="382.2" width="1.1" height="3.8" fill="#fff"/>
<rect x="489.84" y="388.3" width="4.1" height="5.6" fill="#fff"/>
<rect x="491.84" y="382.2" width="1.1" height="3.8" fill="#fff"/>
<rect x="495.955" y="388.3" width="4.1" height="5.6" fill="#fff"/>
<rect x="497.955" y="382.2" width="1.1" height="3.8" fill="#fff"/>
<rect x="502.07" y="388.3" width="4.1" height="5.6" fill="#fff"/>
<rect x="504.07" y="382.2" width="1.1" height="3.8" fill="#fff"/>
<rect x="508.185" y="388.3" width="4.1" height="5.6" fill="#fff"/>
<rect x="510.185" y="382.2" width="1.1" height="3.8" fill="#fff"/>
<rect x="514.3" y="388.3" width="4.1" height="5.6" fill="#fff"/>
<rect x="516.3" y="382.2" width="1.1" height="3.8" fill="#fff"/>
<rect x="520.415" y="388.3" width="4.1" height="5.6" fill="#fff"/>
<rect x="522.415" y="382.2" width="1.1" height="3.8" fill="#fff"/>
<rect x="526.53" y="388.3" width="4.1" height="5.6" fill="#fff"/>
<rect x="528.53" y="382.2" width="1.1" height="3.8" fill="#fff"/>
<rect x="532.645" y="388.3" width="4.1" height="5.6" fill="#fff"/>
<rect x="534.645" y="382.2" width="1.1" height="3.8" fill="#fff"/>
<rect x="538.76" y="388.3" width="4.1" height="5.6" fill="#fff"/>
<rect x="540.76" y="382.2" width="1.1" height="3.8" fill="#fff"/>
<rect x="544.875" y="388.3" width="4.1" height="5.6" fill="#fff"/>
<rect x="546.875" y="382.2" width="1.1" height="3.8" fill="#fff"/>
<rect x="550.99" y="388.3" width="4.1" height="5.6" fill="#fff"/>
<rect x="552.99" y="382.2" width="1.1" height="3.8" fill="#fff"/>
<rect x="557.105" y="388.3" width="4.1" height="5.6" fill="#fff"/>
<rect x="559.105" y="382.2" width="1.1" height="3.8" fill="#fff"/>
<rect x="390.3" y="388.5" width="0.9" height="5.2" fill="#fff"/>
<rect x="562.9" y="388.5" width="0.9" height="5.2" fill="#fff"/>
<path d="M578 381.9 H571.8 V385.6 H569.6 V394.4 H578 M578 384.2 H575.2 V387 H571.8" fill="#fff" stroke="#000" stroke-width="1.1"/>
<rect x="578" y="380" width="3.7" height="16.5" fill="#000"/>
<rect x="581.7" y="386" width="9" height="1" fill="#000"/>
<rect x="581.7" y="393" width="9" height="1" fill="#000"/>
<rect x="364.5" y="399.5" width="226" height="18" fill="#fff" stroke="#000" stroke-width="1"/>
<rect x="365" y="406" width="6" height="1" fill="#000"/>
<rect x="365" y="413" width="6" height="1" fill="#000"/>
<rect x="371" y="400" width="4.6" height="15.5" fill="#000"/>
<path d="M375.6 404.4 H378.1 V406.3 H382.7 V404.4 H384.3 V414.5 H375.6" fill="#fff" stroke="#000" stroke-width="1.1"/>
<rect x="389.2" y="407.5" width="176" height="8" fill="#000"/>
<rect x="390.2" y="401.3" width="174" height="7" fill="#000"/>
<rect x="392" y="408.3" width="4.1" height="5.6" fill="#fff"/>
<rect x="394" y="402.2" width="1.1" height="3.8" fill="#fff"/>
<rect x="398.115" y="408.3" width="4.1" height="5.6" fill="#fff"/>
<rect x="400.115" y="402.2" width="1.1" height="3.8" fill="#fff"/>
<rect x="404.23" y="408.3" width="4.1" height="5.6" fill="#fff"/>
<rect x="406.23" y="402.2" width="1.1" height="3.8" fill="#fff"/>
<rect x="410.345" y="408.3" width="4.1" height="5.6" fill="#fff"/>
<rect x="412.345" y="402.2" width="1.1" height="3.8" fill="#fff"/>
<rect x="416.46" y="408.3" width="4.1" height="5.6" fill="#fff"/>
<rect x="418.46" y="402.2" width="1.1" height="3.8" fill="#fff"/>
<rect x="422.575" y="408.3" width="4.1" height="5.6" fill="#fff"/>
<rect x="424.575" y="402.2" width="1.1" height="3.8" fill="#fff"/>
<rect x="428.69" y="408.3" width="4.1" height="5.6" fill="#fff"/>
<rect x="430.69" y="402.2" width="1.1" height="3.8" fill="#fff"/>
<rect x="434.805" y="408.3" width="4.1" height="5.6" fill="#fff"/>
<rect x="436.805" y="402.2" width="1.1" height="3.8" fill="#fff"/>
<rect x="440.92" y="408.3" width="4.1" height="5.6" fill="#fff"/>
<rect x="442.92" y="402.2" width="1.1" height="3.8" fill="#fff"/>
<rect x="447.035" y="408.3" width="4.1" height="5.6" fill="#fff"/>
<rect x="449.035" y="402.2" width="1.1" height="3.8" fill="#fff"/>
<rect x="453.15" y="408.3" width="4.1" height="5.6" fill="#fff"/>
<rect x="455.15" y="402.2" width="1.1" height="3.8" fill="#fff"/>
<rect x="459.265" y="408.3" width="4.1" height="5.6" fill="#fff"/>
<rect x="461.265" y="402.2" width="1.1" height="3.8" fill="#fff"/>
<rect x="465.38" y="408.3" width="4.1" height="5.6" fill="#fff"/>
<rect x="467.38" y="402.2" width="1.1" height="3.8" fill="#fff"/>
<rect x="471.495" y="408.3" width="4.1" height="5.6" fill="#fff"/>
<rect x="473.495" y="402.2" width="1.1" height="3.8" fill="#fff"/>
<rect x="477.61" y="408.3" width="4.1" height="5.6" fill="#fff"/>
<rect x="479.61" y="402.2" width="1.1" height="3.8" fill="#fff"/>
<rect x="483.725" y="408.3" width="4.1" height="5.6" fill="#fff"/>
<rect x="485.725" y="402.2" width="1.1" height="3.8" fill="#fff"/>
<rect x="489.84" y="408.3" width="4.1" height="5.6" fill="#fff"/>
<rect x="491.84" y="402.2" width="1.1" height="3.8" fill="#fff"/>
<rect x="495.955" y="408.3" width="4.1" height="5.6" fill="#fff"/>
<rect x="497.955" y="402.2" width="1.1" height="3.8" fill="#fff"/>
<rect x="502.07" y="408.3" width="4.1" height="5.6" fill="#fff"/>
<rect x="504.07" y="402.2" width="1.1" height="3.8" fill="#fff"/>
<rect x="508.185" y="408.3" width="4.1" height="5.6" fill="#fff"/>
<rect x="510.185" y="402.2" width="1.1" height="3.8" fill="#fff"/>
<rect x="514.3" y="408.3" width="4.1" height="5.6" fill="#fff"/>
<rect x="516.3" y="402.2" width="1.1" height="3.8" fill="#fff"/>
<rect x="520.415" y="408.3" width="4.1" height="5.6" fill="#fff"/>
<rect x="522.415" y="402.2" width="1.1" height="3.8" fill="#fff"/>
<rect x="526.53" y="408.3" width="4.1" height="5.6" fill="#fff"/>
<rect x="528.53" y="402.2" width="1.1" height="3.8" fill="#fff"/>
<rect x="532.645" y="408.3" width="4.1" height="5.6" fill="#fff"/>
<rect x="534.645" y="402.2" width="1.1" height="3.8" fill="#fff"/>
<rect x="538.76" y="408.3" width="4.1" height="5.6" fill="#fff"/>
<rect x="540.76" y="402.2" width="1.1" height="3.8" fill="#fff"/>
<rect x="544.875" y="408.3" width="4.1" height="5.6" fill="#fff"/>
<rect x="546.875" y="402.2" width="1.1" height="3.8" fill="#fff"/>
<rect x="550.99" y="408.3" width="4.1" height="5.6" fill="#fff"/>
<rect x="552.99" y="402.2" width="1.1" height="3.8" fill="#fff"/>
<rect x="557.105" y="408.3" width="4.1" height="5.6" fill="#fff"/>
<rect x="559.105" y="402.2" width="1.1" height="3.8" fill="#fff"/>
<rect x="390.3" y="408.5" width="0.9" height="5.2" fill="#fff"/>
<rect x="562.9" y="408.5" width="0.9" height="5.2" fill="#fff"/>
<path d="M578 401.9 H571.8 V405.6 H569.6 V414.4 H578 M578 404.2 H575.2 V407 H571.8" fill="#fff" stroke="#000" stroke-width="1.1"/>
<rect x="578" y="400" width="3.7" height="16.5" fill="#000"/>
<rect x="581.7" y="406" width="9" height="1" fill="#000"/>
<rect x="581.7" y="413" width="9" height="1" fill="#000"/>
<rect x="364.5" y="419.5" width="226" height="18" fill="#fff" stroke="#000" stroke-width="1"/>
<rect x="365" y="426" width="6" height="1" fill="#000"/>
<rect x="365" y="433" width="6" height="1" fill="#000"/>
<rect x="371" y="420" width="4.6" height="15.5" fill="#000"/>
<path d="M375.6 424.4 H378.1 V426.3 H382.7 V424.4 H384.3 V434.5 H375.6" fill="#fff" stroke="#000" stroke-width="1.1"/>
<rect x="389.2" y="427.5" width="176" height="8" fill="#000"/>
<rect x="390.2" y="421.3" width="174" height="7" fill="#000"/>
<rect x="392" y="428.3" width="4.1" height="5.6" fill="#fff"/>
<rect x="394" y="422.2" width="1.1" height="3.8" fill="#fff"/>
<rect x="398.115" y="428.3" width="4.1" height="5.6" fill="#fff"/>
<rect x="400.115" y="422.2" width="1.1" height="3.8" fill="#fff"/>
<rect x="404.23" y="428.3" width="4.1" height="5.6" fill="#fff"/>
<rect x="406.23" y="422.2" width="1.1" height="3.8" fill="#fff"/>
<rect x="410.345" y="428.3" width="4.1" height="5.6" fill="#fff"/>
<rect x="412.345" y="422.2" width="1.1" height="3.8" fill="#fff"/>
<rect x="416.46" y="428.3" width="4.1" height="5.6" fill="#fff"/>
<rect x="418.46" y="422.2" width="1.1" height="3.8" fill="#fff"/>
<rect x="422.575" y="428.3" width="4.1" height="5.6" fill="#fff"/>
<rect x="424.575" y="422.2" width="1.1" height="3.8" fill="#fff"/>
<rect x="428.69" y="428.3" width="4.1" height="5.6" fill="#fff"/>
<rect x="430.69" y="422.2" width="1.1" height="3.8" fill="#fff"/>
<rect x="434.805" y="428.3" width="4.1" height="5.6" fill="#fff"/>
<rect x="436.805" y="422.2" width="1.1" height="3.8" fill="#fff"/>
<rect x="440.92" y="428.3" width="4.1" height="5.6" fill="#fff"/>
<rect x="442.92" y="422.2" width="1.1" height="3.8" fill="#fff"/>
<rect x="447.035" y="428.3" width="4.1" height="5.6" fill="#fff"/>
<rect x="449.035" y="422.2" width="1.1" height="3.8" fill="#fff"/>
<rect x="453.15" y="428.3" width="4.1" height="5.6" fill="#fff"/>
<rect x="455.15" y="422.2" width="1.1" height="3.8" fill="#fff"/>
<rect x="459.265" y="428.3" width="4.1" height="5.6" fill="#fff"/>
<rect x="461.265" y="422.2" width="1.1" height="3.8" fill="#fff"/>
<rect x="465.38" y="428.3" width="4.1" height="5.6" fill="#fff"/>
<rect x="467.38" y="422.2" width="1.1" height="3.8" fill="#fff"/>
<rect x="471.495" y="428.3" width="4.1" height="5.6" fill="#fff"/>
<rect x="473.495" y="422.2" width="1.1" height="3.8" fill="#fff"/>
<rect x="477.61" y="428.3" width="4.1" height="5.6" fill="#fff"/>
<rect x="479.61" y="422.2" width="1.1" height="3.8" fill="#fff"/>
<rect x="483.725" y="428.3" width="4.1" height="5.6" fill="#fff"/>
<rect x="485.725" y="422.2" width="1.1" height="3.8" fill="#fff"/>
<rect x="489.84" y="428.3" width="4.1" height="5.6" fill="#fff"/>
<rect x="491.84" y="422.2" width="1.1" height="3.8" fill="#fff"/>
<rect x="495.955" y="428.3" width="4.1" height="5.6" fill="#fff"/>
<rect x="497.955" y="422.2" width="1.1" height="3.8" fill="#fff"/>
<rect x="502.07" y="428.3" width="4.1" height="5.6" fill="#fff"/>
<rect x="504.07" y="422.2" width="1.1" height="3.8" fill="#fff"/>
<rect x="508.185" y="428.3" width="4.1" height="5.6" fill="#fff"/>
<rect x="510.185" y="422.2" width="1.1" height="3.8" fill="#fff"/>
<rect x="514.3" y="428.3" width="4.1" height="5.6" fill="#fff"/>
<rect x="516.3" y="422.2" width="1.1" height="3.8" fill="#fff"/>
<rect x="520.415" y="428.3" width="4.1" height="5.6" fill="#fff"/>
<rect x="522.415" y="422.2" width="1.1" height="3.8" fill="#fff"/>
<rect x="526.53" y="428.3" width="4.1" height="5.6" fill="#fff"/>
<rect x="528.53" y="422.2" width="1.1" height="3.8" fill="#fff"/>
<rect x="532.645" y="428.3" width="4.1" height="5.6" fill="#fff"/>
<rect x="534.645" y="422.2" width="1.1" height="3.8" fill="#fff"/>
<rect x="538.76" y="428.3" width="4.1" height="5.6" fill="#fff"/>
<rect x="540.76" y="422.2" width="1.1" height="3.8" fill="#fff"/>
<rect x="544.875" y="428.3" width="4.1" height="5.6" fill="#fff"/>
<rect x="546.875" y="422.2" width="1.1" height="3.8" fill="#fff"/>
<rect x="550.99" y="428.3" width="4.1" height="5.6" fill="#fff"/>
<rect x="552.99" y="422.2" width="1.1" height="3.8" fill="#fff"/>
<rect x="557.105" y="428.3" width="4.1" height="5.6" fill="#fff"/>
<rect x="559.105" y="422.2" width="1.1" height="3.8" fill="#fff"/>
<rect x="390.3" y="428.5" width="0.9" height="5.2" fill="#fff"/>
<rect x="562.9" y="428.5" width="0.9" height="5.2" fill="#fff"/>
<path d="M578 421.9 H571.8 V425.6 H569.6 V434.4 H578 M578 424.2 H575.2 V427 H571.8" fill="#fff" stroke="#000" stroke-width="1.1"/>
<rect x="578" y="420" width="3.7" height="16.5" fill="#000"/>
<rect x="581.7" y="426" width="9" height="1" fill="#000"/>
<rect x="581.7" y="433" width="9" height="1" fill="#000"/>
<rect x="364.5" y="439.5" width="226" height="18" fill="#fff" stroke="#000" stroke-width="1"/>
<rect x="365" y="446" width="6" height="1" fill="#000"/>
<rect x="365" y="453" width="6" height="1" fill="#000"/>
<rect x="371" y="440" width="4.6" height="15.5" fill="#000"/>
<path d="M375.6 444.4 H378.1 V446.3 H382.7 V444.4 H384.3 V454.5 H375.6" fill="#fff" stroke="#000" stroke-width="1.1"/>
<rect x="389.2" y="447.5" width="176" height="8" fill="#000"/>
<rect x="390.2" y="441.3" width="174" height="7" fill="#000"/>
<rect x="392" y="448.3" width="4.1" height="5.6" fill="#fff"/>
<rect x="394" y="442.2" width="1.1" height="3.8" fill="#fff"/>
<rect x="398.115" y="448.3" width="4.1" height="5.6" fill="#fff"/>
<rect x="400.115" y="442.2" width="1.1" height="3.8" fill="#fff"/>
<rect x="404.23" y="448.3" width="4.1" height="5.6" fill="#fff"/>
<rect x="406.23" y="442.2" width="1.1" height="3.8" fill="#fff"/>
<rect x="410.345" y="448.3" width="4.1" height="5.6" fill="#fff"/>
<rect x="412.345" y="442.2" width="1.1" height="3.8" fill="#fff"/>
<rect x="416.46" y="448.3" width="4.1" height="5.6" fill="#fff"/>
<rect x="418.46" y="442.2" width="1.1" height="3.8" fill="#fff"/>
<rect x="422.575" y="448.3" width="4.1" height="5.6" fill="#fff"/>
<rect x="424.575" y="442.2" width="1.1" height="3.8" fill="#fff"/>
<rect x="428.69" y="448.3" width="4.1" height="5.6" fill="#fff"/>
<rect x="430.69" y="442.2" width="1.1" height="3.8" fill="#fff"/>
<rect x="434.805" y="448.3" width="4.1" height="5.6" fill="#fff"/>
<rect x="436.805" y="442.2" width="1.1" height="3.8" fill="#fff"/>
<rect x="440.92" y="448.3" width="4.1" height="5.6" fill="#fff"/>
<rect x="442.92" y="442.2" width="1.1" height="3.8" fill="#fff"/>
<rect x="447.035" y="448.3" width="4.1" height="5.6" fill="#fff"/>
<rect x="449.035" y="442.2" width="1.1" height="3.8" fill="#fff"/>
<rect x="453.15" y="448.3" width="4.1" height="5.6" fill="#fff"/>
<rect x="455.15" y="442.2" width="1.1" height="3.8" fill="#fff"/>
<rect x="459.265" y="448.3" width="4.1" height="5.6" fill="#fff"/>
<rect x="461.265" y="442.2" width="1.1" height="3.8" fill="#fff"/>
<rect x="465.38" y="448.3" width="4.1" height="5.6" fill="#fff"/>
<rect x="467.38" y="442.2" width="1.1" height="3.8" fill="#fff"/>
<rect x="471.495" y="448.3" width="4.1" height="5.6" fill="#fff"/>
<rect x="473.495" y="442.2" width="1.1" height="3.8" fill="#fff"/>
<rect x="477.61" y="448.3" width="4.1" height="5.6" fill="#fff"/>
<rect x="479.61" y="442.2" width="1.1" height="3.8" fill="#fff"/>
<rect x="483.725" y="448.3" width="4.1" height="5.6" fill="#fff"/>
<rect x="485.725" y="442.2" width="1.1" height="3.8" fill="#fff"/>
<rect x="489.84" y="448.3" width="4.1" height="5.6" fill="#fff"/>
<rect x="491.84" y="442.2" width="1.1" height="3.8" fill="#fff"/>
<rect x="495.955" y="448.3" width="4.1" height="5.6" fill="#fff"/>
<rect x="497.955" y="442.2" width="1.1" height="3.8" fill="#fff"/>
<rect x="502.07" y="448.3" width="4.1" height="5.6" fill="#fff"/>
<rect x="504.07" y="442.2" width="1.1" height="3.8" fill="#fff"/>
<rect x="508.185" y="448.3" width="4.1" height="5.6" fill="#fff"/>
<rect x="510.185" y="442.2" width="1.1" height="3.8" fill="#fff"/>
<rect x="514.3" y="448.3" width="4.1" height="5.6" fill="#fff"/>
<rect x="516.3" y="442.2" width="1.1" height="3.8" fill="#fff"/>
<rect x="520.415" y="448.3" width="4.1" height="5.6" fill="#fff"/>
<rect x="522.415" y="442.2" width="1.1" height="3.8" fill="#fff"/>
<rect x="526.53" y="448.3" width="4.1" height="5.6" fill="#fff"/>
<rect x="528.53" y="442.2" width="1.1" height="3.8" fill="#fff"/>
<rect x="532.645" y="448.3" width="4.1" height="5.6" fill="#fff"/>
<rect x="534.645" y="442.2" width="1.1" height="3.8" fill="#fff"/>
<rect x="538.76" y="448.3" width="4.1" height="5.6" fill="#fff"/>
<rect x="540.76" y="442.2" width="1.1" height="3.8" fill="#fff"/>
<rect x="544.875" y="448.3" width="4.1" height="5.6" fill="#fff"/>
<rect x="546.875" y="442.2" width="1.1" height="3.8" fill="#fff"/>
<rect x="550.99" y="448.3" width="4.1" height="5.6" fill="#fff"/>
<rect x="552.99" y="442.2" width="1.1" height="3.8" fill="#fff"/>
<rect x="557.105" y="448.3" width="4.1" height="5.6" fill="#fff"/>
<rect x="559.105" y="442.2" width="1.1" height="3.8" fill="#fff"/>
<rect x="390.3" y="448.5" width="0.9" height="5.2" fill="#fff"/>
<rect x="562.9" y="448.5" width="0.9" height="5.2" fill="#fff"/>
<path d="M578 441.9 H571.8 V445.6 H569.6 V454.4 H578 M578 444.2 H575.2 V447 H571.8" fill="#fff" stroke="#000" stroke-width="1.1"/>
<rect x="578" y="440" width="3.7" height="16.5" fill="#000"/>
<rect x="581.7" y="446" width="9" height="1" fill="#000"/>
<rect x="581.7" y="453" width="9" height="1" fill="#000"/>
<rect x="364.5" y="459.5" width="226" height="18" fill="#fff" stroke="#000" stroke-width="1"/>
<rect x="365" y="466" width="6" height="1" fill="#000"/>
<rect x="365" y="473" width="6" height="1" fill="#000"/>
<rect x="371" y="460" width="4.6" height="15.5" fill="#000"/>
<path d="M375.6 464.4 H378.1 V466.3 H382.7 V464.4 H384.3 V474.5 H375.6" fill="#fff" stroke="#000" stroke-width="1.1"/>
<rect x="389.2" y="467.5" width="176" height="8" fill="#000"/>
<rect x="390.2" y="461.3" width="174" height="7" fill="#000"/>
<rect x="392" y="468.3" width="4.1" height="5.6" fill="#fff"/>
<rect x="394" y="462.2" width="1.1" height="3.8" fill="#fff"/>
<rect x="398.115" y="468.3" width="4.1" height="5.6" fill="#fff"/>
<rect x="400.115" y="462.2" width="1.1" height="3.8" fill="#fff"/>
<rect x="404.23" y="468.3" width="4.1" height="5.6" fill="#fff"/>
<rect x="406.23" y="462.2" width="1.1" height="3.8" fill="#fff"/>
<rect x="410.345" y="468.3" width="4.1" height="5.6" fill="#fff"/>
<rect x="412.345" y="462.2" width="1.1" height="3.8" fill="#fff"/>
<rect x="416.46" y="468.3" width="4.1" height="5.6" fill="#fff"/>
<rect x="418.46" y="462.2" width="1.1" height="3.8" fill="#fff"/>
<rect x="422.575" y="468.3" width="4.1" height="5.6" fill="#fff"/>
<rect x="424.575" y="462.2" width="1.1" height="3.8" fill="#fff"/>
<rect x="428.69" y="468.3" width="4.1" height="5.6" fill="#fff"/>
<rect x="430.69" y="462.2" width="1.1" height="3.8" fill="#fff"/>
<rect x="434.805" y="468.3" width="4.1" height="5.6" fill="#fff"/>
<rect x="436.805" y="462.2" width="1.1" height="3.8" fill="#fff"/>
<rect x="440.92" y="468.3" width="4.1" height="5.6" fill="#fff"/>
<rect x="442.92" y="462.2" width="1.1" height="3.8" fill="#fff"/>
<rect x="447.035" y="468.3" width="4.1" height="5.6" fill="#fff"/>
<rect x="449.035" y="462.2" width="1.1" height="3.8" fill="#fff"/>
<rect x="453.15" y="468.3" width="4.1" height="5.6" fill="#fff"/>
<rect x="455.15" y="462.2" width="1.1" height="3.8" fill="#fff"/>
<rect x="459.265" y="468.3" width="4.1" height="5.6" fill="#fff"/>
<rect x="461.265" y="462.2" width="1.1" height="3.8" fill="#fff"/>
<rect x="465.38" y="468.3" width="4.1" height="5.6" fill="#fff"/>
<rect x="467.38" y="462.2" width="1.1" height="3.8" fill="#fff"/>
<rect x="471.495" y="468.3" width="4.1" height="5.6" fill="#fff"/>
<rect x="473.495" y="462.2" width="1.1" height="3.8" fill="#fff"/>
<rect x="477.61" y="468.3" width="4.1" height="5.6" fill="#fff"/>
<rect x="479.61" y="462.2" width="1.1" height="3.8" fill="#fff"/>
<rect x="483.725" y="468.3" width="4.1" height="5.6" fill="#fff"/>
<rect x="485.725" y="462.2" width="1.1" height="3.8" fill="#fff"/>
<rect x="489.84" y="468.3" width="4.1" height="5.6" fill="#fff"/>
<rect x="491.84" y="462.2" width="1.1" height="3.8" fill="#fff"/>
<rect x="495.955" y="468.3" width="4.1" height="5.6" fill="#fff"/>
<rect x="497.955" y="462.2" width="1.1" height="3.8" fill="#fff"/>
<rect x="502.07" y="468.3" width="4.1" height="5.6" fill="#fff"/>
<rect x="504.07" y="462.2" width="1.1" height="3.8" fill="#fff"/>
<rect x="508.185" y="468.3" width="4.1" height="5.6" fill="#fff"/>
<rect x="510.185" y="462.2" width="1.1" height="3.8" fill="#fff"/>
<rect x="514.3" y="468.3" width="4.1" height="5.6" fill="#fff"/>
<rect x="516.3" y="462.2" width="1.1" height="3.8" fill="#fff"/>
<rect x="520.415" y="468.3" width="4.1" height="5.6" fill="#fff"/>
<rect x="522.415" y="462.2" width="1.1" height="3.8" fill="#fff"/>
<rect x="526.53" y="468.3" width="4.1" height="5.6" fill="#fff"/>
<rect x="528.53" y="462.2" width="1.1" height="3.8" fill="#fff"/>
<rect x="532.645" y="468.3" width="4.1" height="5.6" fill="#fff"/>
<rect x="534.645" y="462.2" width="1.1" height="3.8" fill="#fff"/>
<rect x="538.76" y="468.3" width="4.1" height="5.6" fill="#fff"/>
<rect x="540.76" y="462.2" width="1.1" height="3.8" fill="#fff"/>
<rect x="544.875" y="468.3" width="4.1" height="5.6" fill="#fff"/>
<rect x="546.875" y="462.2" width="1.1" height="3.8" fill="#fff"/>
<rect x="550.99" y="468.3" width="4.1" height="5.6" fill="#fff"/>
<rect x="552.99" y="462.2" width="1.1" height="3.8" fill="#fff"/>
<rect x="557.105" y="468.3" width="4.1" height="5.6" fill="#fff"/>
<rect x="559.105" y="462.2" width="1.1" height="3.8" fill="#fff"/>
<rect x="390.3" y="468.5" width="0.9" height="5.2" fill="#fff"/>
<rect x="562.9" y="468.5" width="0.9" height="5.2" fill="#fff"/>
<path d="M578 461.9 H571.8 V465.6 H569.6 V474.4 H578 M578 464.2 H575.2 V467 H571.8" fill="#fff" stroke="#000" stroke-width="1.1"/>
<rect x="578" y="460" width="3.7" height="16.5" fill="#000"/>
<rect x="581.7" y="466" width="9" height="1" fill="#000"/>
<rect x="581.7" y="473" width="9" height="1" fill="#000"/>
<rect x="364.5" y="479.5" width="226" height="18" fill="#fff" stroke="#000" stroke-width="1"/>
<rect x="365" y="486" width="6" height="1" fill="#000"/>
<rect x="365" y="493" width="6" height="1" fill="#000"/>
<rect x="371" y="480" width="4.6" height="15.5" fill="#000"/>
<path d="M375.6 484.4 H378.1 V486.3 H382.7 V484.4 H384.3 V494.5 H375.6" fill="#fff" stroke="#000" stroke-width="1.1"/>
<rect x="389.2" y="487.5" width="176" height="8" fill="#000"/>
<rect x="390.2" y="481.3" width="174" height="7" fill="#000"/>
<rect x="392" y="488.3" width="4.1" height="5.6" fill="#fff"/>
<rect x="394" y="482.2" width="1.1" height="3.8" fill="#fff"/>
<rect x="398.115" y="488.3" width="4.1" height="5.6" fill="#fff"/>
<rect x="400.115" y="482.2" width="1.1" height="3.8" fill="#fff"/>
<rect x="404.23" y="488.3" width="4.1" height="5.6" fill="#fff"/>
<rect x="406.23" y="482.2" width="1.1" height="3.8" fill="#fff"/>
<rect x="410.345" y="488.3" width="4.1" height="5.6" fill="#fff"/>
<rect x="412.345" y="482.2" width="1.1" height="3.8" fill="#fff"/>
<rect x="416.46" y="488.3" width="4.1" height="5.6" fill="#fff"/>
<rect x="418.46" y="482.2" width="1.1" height="3.8" fill="#fff"/>
<rect x="422.575" y="488.3" width="4.1" height="5.6" fill="#fff"/>
<rect x="424.575" y="482.2" width="1.1" height="3.8" fill="#fff"/>
<rect x="428.69" y="488.3" width="4.1" height="5.6" fill="#fff"/>
<rect x="430.69" y="482.2" width="1.1" height="3.8" fill="#fff"/>
<rect x="434.805" y="488.3" width="4.1" height="5.6" fill="#fff"/>
<rect x="436.805" y="482.2" width="1.1" height="3.8" fill="#fff"/>
<rect x="440.92" y="488.3" width="4.1" height="5.6" fill="#fff"/>
<rect x="442.92" y="482.2" width="1.1" height="3.8" fill="#fff"/>
<rect x="447.035" y="488.3" width="4.1" height="5.6" fill="#fff"/>
<rect x="449.035" y="482.2" width="1.1" height="3.8" fill="#fff"/>
<rect x="453.15" y="488.3" width="4.1" height="5.6" fill="#fff"/>
<rect x="455.15" y="482.2" width="1.1" height="3.8" fill="#fff"/>
<rect x="459.265" y="488.3" width="4.1" height="5.6" fill="#fff"/>
<rect x="461.265" y="482.2" width="1.1" height="3.8" fill="#fff"/>
<rect x="465.38" y="488.3" width="4.1" height="5.6" fill="#fff"/>
<rect x="467.38" y="482.2" width="1.1" height="3.8" fill="#fff"/>
<rect x="471.495" y="488.3" width="4.1" height="5.6" fill="#fff"/>
<rect x="473.495" y="482.2" width="1.1" height="3.8" fill="#fff"/>
<rect x="477.61" y="488.3" width="4.1" height="5.6" fill="#fff"/>
<rect x="479.61" y="482.2" width="1.1" height="3.8" fill="#fff"/>
<rect x="483.725" y="488.3" width="4.1" height="5.6" fill="#fff"/>
<rect x="485.725" y="482.2" width="1.1" height="3.8" fill="#fff"/>
<rect x="489.84" y="488.3" width="4.1" height="5.6" fill="#fff"/>
<rect x="491.84" y="482.2" width="1.1" height="3.8" fill="#fff"/>
<rect x="495.955" y="488.3" width="4.1" height="5.6" fill="#fff"/>
<rect x="497.955" y="482.2" width="1.1" height="3.8" fill="#fff"/>
<rect x="502.07" y="488.3" width="4.1" height="5.6" fill="#fff"/>
<rect x="504.07" y="482.2" width="1.1" height="3.8" fill="#fff"/>
<rect x="508.185" y="488.3" width="4.1" height="5.6" fill="#fff"/>
<rect x="510.185" y="482.2" width="1.1" height="3.8" fill="#fff"/>
<rect x="514.3" y="488.3" width="4.1" height="5.6" fill="#fff"/>
<rect x="516.3" y="482.2" width="1.1" height="3.8" fill="#fff"/>
<rect x="520.415" y="488.3" width="4.1" height="5.6" fill="#fff"/>
<rect x="522.415" y="482.2" width="1.1" height="3.8" fill="#fff"/>
<rect x="526.53" y="488.3" width="4.1" height="5.6" fill="#fff"/>
<rect x="528.53" y="482.2" width="1.1" height="3.8" fill="#fff"/>
<rect x="532.645" y="488.3" width="4.1" height="5.6" fill="#fff"/>
<rect x="534.645" y="482.2" width="1.1" height="3.8" fill="#fff"/>
<rect x="538.76" y="488.3" width="4.1" height="5.6" fill="#fff"/>
<rect x="540.76" y="482.2" width="1.1" height="3.8" fill="#fff"/>
<rect x="544.875" y="488.3" width="4.1" height="5.6" fill="#fff"/>
<rect x="546.875" y="482.2" width="1.1" height="3.8" fill="#fff"/>
<rect x="550.99" y="488.3" width="4.1" height="5.6" fill="#fff"/>
<rect x="552.99" y="482.2" width="1.1" height="3.8" fill="#fff"/>
<rect x="557.105" y="488.3" width="4.1" height="5.6" fill="#fff"/>
<rect x="559.105" y="482.2" width="1.1" height="3.8" fill="#fff"/>
<rect x="390.3" y="488.5" width="0.9" height="5.2" fill="#fff"/>
<rect x="562.9" y="488.5" width="0.9" height="5.2" fill="#fff"/>
<path d="M578 481.9 H571.8 V485.6 H569.6 V494.4 H578 M578 484.2 H575.2 V487 H571.8" fill="#fff" stroke="#000" stroke-width="1.1"/>
<rect x="578" y="480" width="3.7" height="16.5" fill="#000"/>
<rect x="581.7" y="486" width="9" height="1" fill="#000"/>
<rect x="581.7" y="493" width="9" height="1" fill="#000"/>
<rect x="364.5" y="499.5" width="226" height="18" fill="#fff" stroke="#000" stroke-width="1"/>
<rect x="365" y="506" width="6" height="1" fill="#000"/>
<rect x="365" y="513" width="6" height="1" fill="#000"/>
<rect x="371" y="500" width="4.6" height="15.5" fill="#000"/>
<path d="M375.6 504.4 H378.1 V506.3 H382.7 V504.4 H384.3 V514.5 H375.6" fill="#fff" stroke="#000" stroke-width="1.1"/>
<rect x="389.2" y="507.5" width="176" height="8" fill="#000"/>
<rect x="390.2" y="501.3" width="174" height="7" fill="#000"/>
<rect x="392" y="508.3" width="4.1" height="5.6" fill="#fff"/>
<rect x="394" y="502.2" width="1.1" height="3.8" fill="#fff"/>
<rect x="398.115" y="508.3" width="4.1" height="5.6" fill="#fff"/>
<rect x="400.115" y="502.2" width="1.1" height="3.8" fill="#fff"/>
<rect x="404.23" y="508.3" width="4.1" height="5.6" fill="#fff"/>
<rect x="406.23" y="502.2" width="1.1" height="3.8" fill="#fff"/>
<rect x="410.345" y="508.3" width="4.1" height="5.6" fill="#fff"/>
<rect x="412.345" y="502.2" width="1.1" height="3.8" fill="#fff"/>
<rect x="416.46" y="508.3" width="4.1" height="5.6" fill="#fff"/>
<rect x="418.46" y="502.2" width="1.1" height="3.8" fill="#fff"/>
<rect x="422.575" y="508.3" width="4.1" height="5.6" fill="#fff"/>
<rect x="424.575" y="502.2" width="1.1" height="3.8" fill="#fff"/>
<rect x="428.69" y="508.3" width="4.1" height="5.6" fill="#fff"/>
<rect x="430.69" y="502.2" width="1.1" height="3.8" fill="#fff"/>
<rect x="434.805" y="508.3" width="4.1" height="5.6" fill="#fff"/>
<rect x="436.805" y="502.2" width="1.1" height="3.8" fill="#fff"/>
<rect x="440.92" y="508.3" width="4.1" height="5.6" fill="#fff"/>
<rect x="442.92" y="502.2" width="1.1" height="3.8" fill="#fff"/>
<rect x="447.035" y="508.3" width="4.1" height="5.6" fill="#fff"/>
<rect x="449.035" y="502.2" width="1.1" height="3.8" fill="#fff"/>
<rect x="453.15" y="508.3" width="4.1" height="5.6" fill="#fff"/>
<rect x="455.15" y="502.2" width="1.1" height="3.8" fill="#fff"/>
<rect x="459.265" y="508.3" width="4.1" height="5.6" fill="#fff"/>
<rect x="461.265" y="502.2" width="1.1" height="3.8" fill="#fff"/>
<rect x="465.38" y="508.3" width="4.1" height="5.6" fill="#fff"/>
<rect x="467.38" y="502.2" width="1.1" height="3.8" fill="#fff"/>
<rect x="471.495" y="508.3" width="4.1" height="5.6" fill="#fff"/>
<rect x="473.495" y="502.2" width="1.1" height="3.8" fill="#fff"/>
<rect x="477.61" y="508.3" width="4.1" height="5.6" fill="#fff"/>
<rect x="479.61" y="502.2" width="1.1" height="3.8" fill="#fff"/>
<rect x="483.725" y="508.3" width="4.1" height="5.6" fill="#fff"/>
<rect x="485.725" y="502.2" width="1.1" height="3.8" fill="#fff"/>
<rect x="489.84" y="508.3" width="4.1" height="5.6" fill="#fff"/>
<rect x="491.84" y="502.2" width="1.1" height="3.8" fill="#fff"/>
<rect x="495.955" y="508.3" width="4.1" height="5.6" fill="#fff"/>
<rect x="497.955" y="502.2" width="1.1" height="3.8" fill="#fff"/>
<rect x="502.07" y="508.3" width="4.1" height="5.6" fill="#fff"/>
<rect x="504.07" y="502.2" width="1.1" height="3.8" fill="#fff"/>
<rect x="508.185" y="508.3" width="4.1" height="5.6" fill="#fff"/>
<rect x="510.185" y="502.2" width="1.1" height="3.8" fill="#fff"/>
<rect x="514.3" y="508.3" width="4.1" height="5.6" fill="#fff"/>
<rect x="516.3" y="502.2" width="1.1" height="3.8" fill="#fff"/>
<rect x="520.415" y="508.3" width="4.1" height="5.6" fill="#fff"/>
<rect x="522.415" y="502.2" width="1.1" height="3.8" fill="#fff"/>
<rect x="526.53" y="508.3" width="4.1" height="5.6" fill="#fff"/>
<rect x="528.53" y="502.2" width="1.1" height="3.8" fill="#fff"/>
<rect x="532.645" y="508.3" width="4.1" height="5.6" fill="#fff"/>
<rect x="534.645" y="502.2" width="1.1" height="3.8" fill="#fff"/>
<rect x="538.76" y="508.3" width="4.1" height="5.6" fill="#fff"/>
<rect x="540.76" y="502.2" width="1.1" height="3.8" fill="#fff"/>
<rect x="544.875" y="508.3" width="4.1" height="5.6" fill="#fff"/>
<rect x="546.875" y="502.2" width="1.1" height="3.8" fill="#fff"/>
<rect x="550.99" y="508.3" width="4.1" height="5.6" fill="#fff"/>
<rect x="552.99" y="502.2" width="1.1" height="3.8" fill="#fff"/>
<rect x="557.105" y="508.3" width="4.1" height="5.6" fill="#fff"/>
<rect x="559.105" y="502.2" width="1.1" height="3.8" fill="#fff"/>
<rect x="390.3" y="508.5" width="0.9" height="5.2" fill="#fff"/>
<rect x="562.9" y="508.5" width="0.9" height="5.2" fill="#fff"/>
<path d="M578 501.9 H571.8 V505.6 H569.6 V514.4 H578 M578 504.2 H575.2 V507 H571.8" fill="#fff" stroke="#000" stroke-width="1.1"/>
<rect x="578" y="500" width="3.7" height="16.5" fill="#000"/>
<rect x="581.7" y="506" width="9" height="1" fill="#000"/>
<rect x="581.7" y="513" width="9" height="1" fill="#000"/>
<rect x="364.5" y="519.5" width="226" height="18" fill="#fff" stroke="#000" stroke-width="1"/>
<rect x="365" y="526" width="6" height="1" fill="#000"/>
<rect x="365" y="533" width="6" height="1" fill="#000"/>
<rect x="371" y="520" width="4.6" height="15.5" fill="#000"/>
<path d="M375.6 524.4 H378.1 V526.3 H382.7 V524.4 H384.3 V534.5 H375.6" fill="#fff" stroke="#000" stroke-width="1.1"/>
<rect x="389.2" y="527.5" width="176" height="8" fill="#000"/>
<rect x="390.2" y="521.3" width="174" height="7" fill="#000"/>
<rect x="392" y="528.3" width="4.1" height="5.6" fill="#fff"/>
<rect x="394" y="522.2" width="1.1" height="3.8" fill="#fff"/>
<rect x="398.115" y="528.3" width="4.1" height="5.6" fill="#fff"/>
<rect x="400.115" y="522.2" width="1.1" height="3.8" fill="#fff"/>
<rect x="404.23" y="528.3" width="4.1" height="5.6" fill="#fff"/>
<rect x="406.23" y="522.2" width="1.1" height="3.8" fill="#fff"/>
<rect x="410.345" y="528.3" width="4.1" height="5.6" fill="#fff"/>
<rect x="412.345" y="522.2" width="1.1" height="3.8" fill="#fff"/>
<rect x="416.46" y="528.3" width="4.1" height="5.6" fill="#fff"/>
<rect x="418.46" y="522.2" width="1.1" height="3.8" fill="#fff"/>
<rect x="422.575" y="528.3" width="4.1" height="5.6" fill="#fff"/>
<rect x="424.575" y="522.2" width="1.1" height="3.8" fill="#fff"/>
<rect x="428.69" y="528.3" width="4.1" height="5.6" fill="#fff"/>
<rect x="430.69" y="522.2" width="1.1" height="3.8" fill="#fff"/>
<rect x="434.805" y="528.3" width="4.1" height="5.6" fill="#fff"/>
<rect x="436.805" y="522.2" width="1.1" height="3.8" fill="#fff"/>
<rect x="440.92" y="528.3" width="4.1" height="5.6" fill="#fff"/>
<rect x="442.92" y="522.2" width="1.1" height="3.8" fill="#fff"/>
<rect x="447.035" y="528.3" width="4.1" height="5.6" fill="#fff"/>
<rect x="449.035" y="522.2" width="1.1" height="3.8" fill="#fff"/>
<rect x="453.15" y="528.3" width="4.1" height="5.6" fill="#fff"/>
<rect x="455.15" y="522.2" width="1.1" height="3.8" fill="#fff"/>
<rect x="459.265" y="528.3" width="4.1" height="5.6" fill="#fff"/>
<rect x="461.265" y="522.2" width="1.1" height="3.8" fill="#fff"/>
<rect x="465.38" y="528.3" width="4.1" height="5.6" fill="#fff"/>
<rect x="467.38" y="522.2" width="1.1" height="3.8" fill="#fff"/>
<rect x="471.495" y="528.3" width="4.1" height="5.6" fill="#fff"/>
<rect x="473.495" y="522.2" width="1.1" height="3.8" fill="#fff"/>
<rect x="477.61" y="528.3" width="4.1" height="5.6" fill="#fff"/>
<rect x="479.61" y="522.2" width="1.1" height="3.8" fill="#fff"/>
<rect x="483.725" y="528.3" width="4.1" height="5.6" fill="#fff"/>
<rect x="485.725" y="522.2" width="1.1" height="3.8" fill="#fff"/>
<rect x="489.84" y="528.3" width="4.1" height="5.6" fill="#fff"/>
<rect x="491.84" y="522.2" width="1.1" height="3.8" fill="#fff"/>
<rect x="495.955" y="528.3" width="4.1" height="5.6" fill="#fff"/>
<rect x="497.955" y="522.2" width="1.1" height="3.8" fill="#fff"/>
<rect x="502.07" y="528.3" width="4.1" height="5.6" fill="#fff"/>
<rect x="504.07" y="522.2" width="1.1" height="3.8" fill="#fff"/>
<rect x="508.185" y="528.3" width="4.1" height="5.6" fill="#fff"/>
<rect x="510.185" y="522.2" width="1.1" height="3.8" fill="#fff"/>
<rect x="514.3" y="528.3" width="4.1" height="5.6" fill="#fff"/>
<rect x="516.3" y="522.2" width="1.1" height="3.8" fill="#fff"/>
<rect x="520.415" y="528.3" width="4.1" height="5.6" fill="#fff"/>
<rect x="522.415" y="522.2" width="1.1" height="3.8" fill="#fff"/>
<rect x="526.53" y="528.3" width="4.1" height="5.6" fill="#fff"/>
<rect x="528.53" y="522.2" width="1.1" height="3.8" fill="#fff"/>
<rect x="532.645" y="528.3" width="4.1" height="5.6" fill="#fff"/>
<rect x="534.645" y="522.2" width="1.1" height="3.8" fill="#fff"/>
<rect x="538.76" y="528.3" width="4.1" height="5.6" fill="#fff"/>
<rect x="540.76" y="522.2" width="1.1" height="3.8" fill="#fff"/>
<rect x="544.875" y="528.3" width="4.1" height="5.6" fill="#fff"/>
<rect x="546.875" y="522.2" width="1.1" height="3.8" fill="#fff"/>
<rect x="550.99" y="528.3" width="4.1" height="5.6" fill="#fff"/>
<rect x="552.99" y="522.2" width="1.1" height="3.8" fill="#fff"/>
<rect x="557.105" y="528.3" width="4.1" height="5.6" fill="#fff"/>
<rect x="559.105" y="522.2" width="1.1" height="3.8" fill="#fff"/>
<rect x="390.3" y="528.5" width="0.9" height="5.2" fill="#fff"/>
<rect x="562.9" y="528.5" width="0.9" height="5.2" fill="#fff"/>
<path d="M578 521.9 H571.8 V525.6 H569.6 V534.4 H578 M578 524.2 H575.2 V527 H571.8" fill="#fff" stroke="#000" stroke-width="1.1"/>
<rect x="578" y="520" width="3.7" height="16.5" fill="#000"/>
<rect x="581.7" y="526" width="9" height="1" fill="#000"/>
<rect x="581.7" y="533" width="9" height="1" fill="#000"/>
<rect x="447" y="409" width="60" height="17.8" rx="3.5" fill="#000"/>
<rect x="450" y="411.6" width="54.6" height="13.5" rx="1.2" fill="#fff"/>
<text x="477.2" y="422.5" font-size="12" letter-spacing="0.8" text-anchor="middle" fill="#000">BANK 0</text>
<rect x="447" y="489.8" width="60" height="17.8" rx="3.5" fill="#000"/>
<rect x="450" y="492.4" width="54.6" height="13.5" rx="1.2" fill="#fff"/>
<text x="477.2" y="503.9" font-size="12" letter-spacing="0.8" text-anchor="middle" fill="#000">BANK 1</text>
<rect x="717" y="373.5" width="35.5" height="17.5" rx="3.5" fill="#000"/>
<rect x="719" y="375" width="31.5" height="14" rx="2" fill="#fff"/>
<text x="734.05" y="386.55" font-size="12" letter-spacing="0.6" text-anchor="middle" fill="#000">JP2</text>
<polygon points="749.5,378.3 751.5,378.3 757.5,380.1 768,381.05 768,382.95 757.5,383.9 751.5,385.7 749.5,385.7" fill="#000"/>
<polygon points="749.3,380.3 751.3,380.3 757.8,382 751.3,383.7 749.3,383.7" fill="#fff"/>
<rect x="769" y="369" width="6" height="26" fill="#000"/>
<rect x="770.3" y="371.5" width="3.4" height="1.3" fill="#fff"/>
<rect x="770.3" y="375.5" width="3.4" height="1.3" fill="#fff"/>
<rect x="770.3" y="379.5" width="3.4" height="1.3" fill="#fff"/>
<rect x="770.3" y="384" width="3.4" height="1.3" fill="#fff"/>
<rect x="770.3" y="388.5" width="3.4" height="4" fill="#fff"/>
<rect x="771.2" y="389.7" width="1.6" height="1.6" fill="#000"/>
<rect x="669" y="399" width="35.5" height="18.5" rx="3.5" fill="#000"/>
<rect x="671" y="400.5" width="31.5" height="15" rx="2" fill="#fff"/>
<text x="686.05" y="412.55" font-size="12" letter-spacing="0.6" text-anchor="middle" fill="#000">JP6</text>
<polygon points="701.5,404.5 703.5,404.5 709.5,406.3 721,407.25 721,409.15 709.5,410.1 703.5,411.9 701.5,411.9" fill="#000"/>
<polygon points="701.3,406.5 703.3,406.5 709.8,408.2 703.3,409.9 701.3,409.9" fill="#fff"/>
<rect x="720.7" y="405.2" width="19.3" height="5.8" fill="#000"/>
<rect x="725.8" y="406.5" width="2.6" height="3.2" fill="#fff"/>
<rect x="731.8" y="406.5" width="3" height="3.2" fill="#fff"/>
<rect x="732.8" y="407.4" width="1" height="1.4" fill="#000"/>
<rect x="736" y="406.5" width="2.8" height="3.2" fill="#fff"/>
<rect x="736.9" y="407.4" width="1" height="1.4" fill="#000"/>
<path d="M756 400.5 C760 399.5 772 399.5 777 400.5 C780.5 401.5 780 405 779 408 C778.3 411 779.5 413 779.5 416 C779.5 420 778 423 778.5 427 C779 431 781 436 778.5 440 C775 442 758 442 754.5 440 C752 437 753.5 432 754 428 C754.5 424 753 420 753 417 C753 413 754.5 410 754 407 C753.5 404 753 401.5 756 400.5 Z" fill="#fff" stroke="#000" stroke-width="1"/>
<rect x="658" y="429" width="60" height="36.7" fill="#000"/>
<rect x="660" y="426" width="56" height="42.7" fill="#000"/>
<rect x="655" y="431" width="66" height="32.7" fill="#000"/>
<rect x="662.7" y="426" width="1" height="3" fill="#fff"/>
<rect x="665.5" y="426" width="1" height="3" fill="#fff"/>
<rect x="668.4" y="426" width="1" height="3" fill="#fff"/>
<rect x="679.8" y="426" width="1" height="3" fill="#fff"/>
<rect x="682.6" y="426" width="1" height="3" fill="#fff"/>
<rect x="686" y="426" width="1" height="3" fill="#fff"/>
<rect x="696.8" y="426" width="1" height="3" fill="#fff"/>
<rect x="699.7" y="426" width="1" height="3" fill="#fff"/>
<rect x="702.7" y="426" width="1" height="3" fill="#fff"/>
<rect x="713.9" y="426" width="1" height="3" fill="#fff"/>
<rect x="668.7" y="465.7" width="1" height="3" fill="#fff"/>
<rect x="671.8" y="465.7" width="1" height="3" fill="#fff"/>
<rect x="675" y="465.7" width="1" height="3" fill="#fff"/>
<rect x="685.8" y="465.7" width="1" height="3" fill="#fff"/>
<rect x="688.9" y="465.7" width="1" height="3" fill="#fff"/>
<rect x="692.1" y="465.7" width="1" height="3" fill="#fff"/>
<rect x="702.7" y="465.7" width="1" height="3" fill="#fff"/>
<rect x="705.9" y="465.7" width="1" height="3" fill="#fff"/>
<rect x="709.1" y="465.7" width="1" height="3" fill="#fff"/>
<rect x="655" y="436.6" width="3" height="1" fill="#fff"/>
<rect x="655" y="440" width="3" height="1" fill="#fff"/>
<rect x="655" y="443" width="3" height="1" fill="#fff"/>
<rect x="655" y="453.6" width="3" height="1" fill="#fff"/>
<rect x="655" y="456.5" width="3" height="1" fill="#fff"/>
<rect x="655" y="459.3" width="3" height="1" fill="#fff"/>
<rect x="718" y="433.7" width="3" height="1" fill="#fff"/>
<rect x="718" y="436.8" width="3" height="1" fill="#fff"/>
<rect x="718" y="444.8" width="3" height="1" fill="#fff"/>
<rect x="718" y="447.7" width="3" height="1" fill="#fff"/>
<rect x="718" y="450.8" width="3" height="1" fill="#fff"/>
<rect x="755" y="459" width="30" height="36.5" fill="#000"/>
<polygon points="778.5,459 778.5,454 781.5,454 781.5,451.5 785,451.5 785,503 781.5,503 781.5,499 778.5,499 778.5,495" fill="#000"/>
<rect x="748.3" y="467" width="6.2" height="8.5" fill="#fff" stroke="#000" stroke-width="1"/>
<rect x="748.3" y="478.5" width="6.2" height="8.5" fill="#fff" stroke="#000" stroke-width="1"/>
<rect x="638.5" y="510.5" width="111" height="23" fill="#fff" stroke="#000" stroke-width="1"/>
<rect x="638.5" y="517.6" width="111" height="1" fill="#000"/>
<rect x="641.2" y="513" width="6" height="2.2" rx="1" fill="#fff" stroke="#000" stroke-width="1"/>
<rect x="642.4" y="515.2" width="3.6" height="1.3" fill="#000"/>
<rect x="640.7" y="519.8" width="6.6" height="2" fill="#000"/>
<rect x="650.32" y="513" width="6" height="2.2" rx="1" fill="#fff" stroke="#000" stroke-width="1"/>
<rect x="651.52" y="515.2" width="3.6" height="1.3" fill="#000"/>
<rect x="649.82" y="519.8" width="6.6" height="2" fill="#000"/>
<rect x="659.44" y="513" width="6" height="2.2" rx="1" fill="#fff" stroke="#000" stroke-width="1"/>
<rect x="660.64" y="515.2" width="3.6" height="1.3" fill="#000"/>
<rect x="658.94" y="519.8" width="6.6" height="2" fill="#000"/>
<rect x="668.56" y="513" width="6" height="2.2" rx="1" fill="#fff" stroke="#000" stroke-width="1"/>
<rect x="669.76" y="515.2" width="3.6" height="1.3" fill="#000"/>
<rect x="668.06" y="519.8" width="6.6" height="2" fill="#000"/>
<rect x="677.68" y="513" width="6" height="2.2" rx="1" fill="#fff" stroke="#000" stroke-width="1"/>
<rect x="678.88" y="515.2" width="3.6" height="1.3" fill="#000"/>
<rect x="677.18" y="519.8" width="6.6" height="2" fill="#000"/>
<rect x="686.8" y="513" width="6" height="2.2" rx="1" fill="#fff" stroke="#000" stroke-width="1"/>
<rect x="688" y="515.2" width="3.6" height="1.3" fill="#000"/>
<rect x="686.3" y="519.8" width="6.6" height="2" fill="#000"/>
<rect x="695.92" y="513" width="6" height="2.2" rx="1" fill="#fff" stroke="#000" stroke-width="1"/>
<rect x="697.12" y="515.2" width="3.6" height="1.3" fill="#000"/>
<rect x="695.42" y="519.8" width="6.6" height="2" fill="#000"/>
<rect x="705.04" y="513" width="6" height="2.2" rx="1" fill="#fff" stroke="#000" stroke-width="1"/>
<rect x="706.24" y="515.2" width="3.6" height="1.3" fill="#000"/>
<rect x="704.54" y="519.8" width="6.6" height="2" fill="#000"/>
<rect x="714.16" y="513" width="6" height="2.2" rx="1" fill="#fff" stroke="#000" stroke-width="1"/>
<rect x="715.36" y="515.2" width="3.6" height="1.3" fill="#000"/>
<rect x="713.66" y="519.8" width="6.6" height="2" fill="#000"/>
<rect x="723.28" y="513" width="6" height="2.2" rx="1" fill="#fff" stroke="#000" stroke-width="1"/>
<rect x="724.48" y="515.2" width="3.6" height="1.3" fill="#000"/>
<rect x="722.78" y="519.8" width="6.6" height="2" fill="#000"/>
<rect x="732.4" y="513" width="6" height="2.2" rx="1" fill="#fff" stroke="#000" stroke-width="1"/>
<rect x="733.6" y="515.2" width="3.6" height="1.3" fill="#000"/>
<rect x="731.9" y="519.8" width="6.6" height="2" fill="#000"/>
<rect x="741.52" y="513" width="6" height="2.2" rx="1" fill="#fff" stroke="#000" stroke-width="1"/>
<rect x="742.72" y="515.2" width="3.6" height="1.3" fill="#000"/>
<rect x="741.02" y="519.8" width="6.6" height="2" fill="#000"/>
<rect x="644.5" y="523.5" width="5" height="7" fill="#fff" stroke="#000" stroke-width="1"/>
<rect x="653.5" y="523.5" width="5" height="7" fill="#fff" stroke="#000" stroke-width="1"/>
<rect x="663.5" y="523.5" width="5" height="7" fill="#fff" stroke="#000" stroke-width="1"/>
<rect x="672.5" y="523.5" width="5" height="7" fill="#fff" stroke="#000" stroke-width="1"/>
<rect x="681.5" y="523.5" width="5" height="7" fill="#fff" stroke="#000" stroke-width="1"/>
<rect x="691.5" y="523.5" width="5" height="7" fill="#fff" stroke="#000" stroke-width="1"/>
<rect x="700.5" y="523.5" width="5" height="7" fill="#fff" stroke="#000" stroke-width="1"/>
<rect x="710.5" y="523.5" width="5" height="7" fill="#fff" stroke="#000" stroke-width="1"/>
<rect x="719.5" y="523.5" width="5" height="7" fill="#fff" stroke="#000" stroke-width="1"/>
<rect x="728.5" y="523.5" width="5" height="7" fill="#fff" stroke="#000" stroke-width="1"/>
<rect x="738.5" y="523.5" width="5" height="7" fill="#fff" stroke="#000" stroke-width="1"/>
<rect x="638.5" y="523" width="1.8" height="1" fill="#000"/>
<rect x="638.5" y="530" width="1.8" height="1" fill="#000"/>
<rect x="747.7" y="523" width="1.8" height="1" fill="#000"/>
<rect x="747.7" y="530" width="1.8" height="1" fill="#000"/>
<text x="570.7" y="92.8" font-size="12" letter-spacing="0" text-anchor="start" fill="#000" textLength="41.6" lengthAdjust="spacingAndGlyphs" style="stroke-width:0.2px">MH1658</text>
<rect x="19" y="43" width="7" height="25.8" fill="#000"/>
<rect x="20.5" y="44.2" width="4" height="1" fill="#fff"/>
<rect x="20.5" y="49.7" width="4" height="1" fill="#fff"/>
<rect x="20.5" y="54.3" width="4" height="2.4" fill="#fff"/>
<rect x="20.5" y="60.8" width="4" height="2" fill="#fff"/>
<rect x="20.8" y="63.8" width="3.4" height="3.6" fill="#fff"/>
<rect x="21.7" y="64.7" width="1.6" height="1.8" fill="#000"/>
<rect x="42" y="46" width="49" height="19" rx="3.5" fill="#000"/>
<rect x="44" y="47.5" width="45" height="15.5" rx="2" fill="#fff"/>
<text x="65.8" y="59.8" font-size="12" letter-spacing="0.6" text-anchor="middle" fill="#000">JP16</text>
<polygon points="45,51.6 43,51.6 37,53.4 27,54.35 27,56.25 37,57.2 43,59 45,59" fill="#000"/>
<polygon points="45.2,53.6 43.2,53.6 36.7,55.3 43.2,57 45.2,57" fill="#fff"/>
<rect x="19" y="76" width="7" height="13" fill="#000"/>
<rect x="20.2" y="77.2" width="1.1" height="5.1" fill="#fff"/>
<rect x="20.2" y="77.2" width="4.7" height="1" fill="#fff"/>
<rect x="20.2" y="81.3" width="4.7" height="1" fill="#fff"/>
<rect x="20.2" y="77.2" width="1.1" height="10.8" fill="#fff"/>
<rect x="42" y="73" width="49" height="18.5" rx="3.5" fill="#000"/>
<rect x="44" y="74.5" width="45" height="15" rx="2" fill="#fff"/>
<text x="65.8" y="86.55" font-size="12" letter-spacing="0.6" text-anchor="middle" fill="#000">JP15</text>
<polygon points="45,78.8 43,78.8 37,80.6 27,81.55 27,83.45 37,84.4 43,86.2 45,86.2" fill="#000"/>
<polygon points="45.2,80.8 43.2,80.8 36.7,82.5 43.2,84.2 45.2,84.2" fill="#fff"/>
<rect x="19" y="95" width="7" height="30.5" fill="#000"/>
<rect x="20.5" y="95.9" width="4" height="1" fill="#fff"/>
<rect x="20.5" y="100.8" width="4" height="2" fill="#fff"/>
<rect x="20.5" y="107.3" width="4" height="1.6" fill="#fff"/>
<rect x="20.5" y="113" width="4" height="1.2" fill="#fff"/>
<rect x="20.5" y="118.7" width="4" height="1" fill="#fff"/>
<rect x="20.8" y="120.8" width="3.4" height="3.3" fill="#fff"/>
<rect x="43" y="101" width="36" height="19" rx="3.5" fill="#000"/>
<rect x="45" y="102.5" width="32" height="15.5" rx="2" fill="#fff"/>
<text x="60.3" y="114.8" font-size="12" letter-spacing="0.6" text-anchor="middle" fill="#000">JP5</text>
<polygon points="46,107.3 44,107.3 38,109.1 27.5,110.05 27.5,111.95 38,112.9 44,114.7 46,114.7" fill="#000"/>
<polygon points="46.2,109.3 44.2,109.3 37.7,111 44.2,112.7 46.2,112.7" fill="#fff"/>
<rect x="19" y="131" width="7" height="25.8" fill="#000"/>
<rect x="20.5" y="132.1" width="4" height="1.9" fill="#fff"/>
<rect x="20.5" y="138" width="4" height="2" fill="#fff"/>
<rect x="20.5" y="144" width="4" height="1.1" fill="#fff"/>
<rect x="20.5" y="149.8" width="4" height="1.1" fill="#fff"/>
<rect x="20.8" y="152" width="3.4" height="3" fill="#fff"/>
<rect x="42" y="136" width="49" height="18" rx="3.5" fill="#000"/>
<rect x="44" y="137.5" width="45" height="14.5" rx="2" fill="#fff"/>
<text x="65.8" y="149.3" font-size="12" letter-spacing="0.6" text-anchor="middle" fill="#000">JP10</text>
<polygon points="45,141.3 43,141.3 37,143.1 27,144.05 27,145.95 37,146.9 43,148.7 45,148.7" fill="#000"/>
<polygon points="45.2,143.3 43.2,143.3 36.7,145 43.2,146.7 45.2,146.7" fill="#fff"/>
<rect x="19" y="163" width="7" height="14" fill="#000"/>
<rect x="20.2" y="164.1" width="1.1" height="12.1" fill="#fff"/>
<rect x="20.2" y="164.1" width="4.7" height="1" fill="#fff"/>
<rect x="20.2" y="170.7" width="4.7" height="1" fill="#fff"/>
<rect x="20.2" y="175.2" width="4.7" height="1" fill="#fff"/>
<rect x="42.5" y="161.5" width="37" height="18.5" rx="3.5" fill="#000"/>
<rect x="44.5" y="163" width="33" height="15" rx="2" fill="#fff"/>
<text x="60.3" y="175.05" font-size="12" letter-spacing="0.6" text-anchor="middle" fill="#000">JP3</text>
<polygon points="45.5,166.8 43.5,166.8 37.5,168.6 27.5,169.55 27.5,171.45 37.5,172.4 43.5,174.2 45.5,174.2" fill="#000"/>
<polygon points="45.7,168.8 43.7,168.8 37.2,170.5 43.7,172.2 45.7,172.2" fill="#fff"/>
<polygon points="78,151 175.3,151 184,159.7 184,256.5 78,256.5" fill="#000"/>
<circle cx="173" cy="161.3" r="3.6" fill="#fff"/>
<rect x="117" y="197" width="28" height="14" fill="#fff"/>
<text x="131.5" y="208.3" font-size="12" letter-spacing="1.2" text-anchor="middle" fill="#000">CPU</text>
<rect x="73" y="14" width="49" height="18.5" rx="3.5" fill="#000"/>
<rect x="75" y="15.5" width="45" height="15" rx="2" fill="#fff"/>
<text x="96.7" y="26.95" font-size="12" letter-spacing="0.4" text-anchor="middle" fill="#000">JP103</text>
<polygon points="119,19.5 121,19.5 127,21.3 137,22.25 137,24.15 127,25.1 121,26.9 119,26.9" fill="#000"/>
<polygon points="118.8,21.5 120.8,21.5 127.3,23.2 120.8,24.9 118.8,24.9" fill="#fff"/>
<polygon points="150.2,24.2 152,23.6 164,35.6 161,38.5 159,38 150.2,27" fill="#000"/>
<rect x="159" y="35.5" width="50.5" height="17.5" rx="3.5" fill="#000"/>
<rect x="161" y="37" width="46.5" height="14" rx="2" fill="#fff"/>
<text x="183.45" y="47.95" font-size="12" letter-spacing="0.4" text-anchor="middle" fill="#000">JP102</text>
<line x1="153.2" y1="27.6" x2="161.5" y2="36.8" stroke="#fff" stroke-width="1"/>
<rect x="138" y="14" width="12" height="19" fill="#000"/>
<rect x="139.1" y="20" width="4" height="1" fill="#fff"/>
<rect x="144.3" y="20" width="4.7" height="1" fill="#fff"/>
<rect x="139.1" y="26.1" width="4" height="1" fill="#fff"/>
<rect x="144.3" y="26.1" width="4.7" height="1" fill="#fff"/>
<rect x="139.1" y="31" width="4" height="1" fill="#fff"/>
<rect x="144.3" y="31" width="4.7" height="1" fill="#fff"/>
<rect x="139.9" y="28" width="2.2" height="2" fill="#fff"/>
<rect x="145.1" y="28" width="3" height="2" fill="#fff"/>
<rect x="158.5" y="88.5" width="41.5" height="18" rx="3.5" fill="#000"/>
<rect x="160.5" y="90" width="37.5" height="14.5" rx="2" fill="#fff"/>
<text x="178.55" y="101.8" font-size="12" letter-spacing="0.6" text-anchor="middle" fill="#000">JP29</text>
<polygon points="197,94.3 199,94.3 205,96.1 215.5,97.05 215.5,98.95 205,99.9 199,101.7 197,101.7" fill="#000"/>
<polygon points="196.8,96.3 198.8,96.3 205.3,98 198.8,99.7 196.8,99.7" fill="#fff"/>
<polygon points="214,103 215.5,105.5 207,115 202.5,112.5" fill="#000"/>
<rect x="165" y="111" width="42" height="18.5" rx="3.5" fill="#000"/>
<rect x="167" y="112.5" width="38" height="15" rx="2" fill="#fff"/>
<text x="185.3" y="124.55" font-size="12" letter-spacing="0.6" text-anchor="middle" fill="#000">JP30</text>
<line x1="205.3" y1="113.2" x2="211.5" y2="107.3" stroke="#fff" stroke-width="1"/>
<rect x="215" y="94" width="19" height="14" fill="#000"/>
<rect x="220" y="95.4" width="2.2" height="4.8" fill="#fff"/>
<rect x="226.2" y="95.4" width="2.2" height="4.8" fill="#fff"/>
<rect x="229.4" y="96.7" width="1.7" height="2.2" fill="#fff"/>
<rect x="232" y="95.4" width="1" height="4.8" fill="#fff"/>
<rect x="220" y="101.9" width="2.2" height="4.8" fill="#fff"/>
<rect x="226.2" y="101.9" width="2.2" height="4.8" fill="#fff"/>
<rect x="229.4" y="103.2" width="1.7" height="2.2" fill="#fff"/>
<rect x="232" y="101.9" width="1" height="4.8" fill="#fff"/>
<rect x="215" y="122" width="19" height="13" fill="#000"/>
<rect x="220" y="123.2" width="2.2" height="3.6" fill="#fff"/>
<rect x="226.2" y="123.2" width="2.2" height="3.6" fill="#fff"/>
<rect x="229.4" y="123.9" width="1.7" height="2.2" fill="#fff"/>
<rect x="232" y="123.2" width="1" height="3.6" fill="#fff"/>
<rect x="220" y="129.7" width="2.2" height="4.2" fill="#fff"/>
<rect x="226.2" y="129.7" width="2.2" height="4.2" fill="#fff"/>
<rect x="229.4" y="130.7" width="1.7" height="2.2" fill="#fff"/>
<rect x="232" y="129.7" width="1" height="4.2" fill="#fff"/>
<rect x="216" y="127.1" width="17.3" height="1.1" fill="#fff"/>
<rect x="202.5" y="154" width="43" height="18.5" rx="3.5" fill="#000"/>
<rect x="204.5" y="155.5" width="39" height="15" rx="2" fill="#fff"/>
<text x="223.3" y="167.55" font-size="12" letter-spacing="0.6" text-anchor="middle" fill="#000">JP12</text>
<polygon points="219.9,157.5 219.9,155.5 221.6,148.5 222.9,136.5 224.1,136.5 225.4,148.5 227.1,155.5 227.1,157.5" fill="#000"/>
<polygon points="221.7,157.9 221.7,155.7 223.5,149 225.3,155.7 225.3,157.9" fill="#fff"/>
<polygon points="235.5,125 237,124.5 247,133.5 247,137 244,137" fill="#000"/>
<rect x="242.5" y="133.5" width="41.5" height="17.5" rx="3.5" fill="#000"/>
<rect x="244.5" y="135" width="37.5" height="14" rx="2" fill="#fff"/>
<text x="262.55" y="146.55" font-size="12" letter-spacing="0.6" text-anchor="middle" fill="#000">JP13</text>
<line x1="240.5" y1="130" x2="245.5" y2="135.5" stroke="#fff" stroke-width="0.9"/>
<rect x="213" y="222" width="44" height="19" rx="3.5" fill="#000"/>
<rect x="215" y="223.5" width="40" height="15.5" rx="2" fill="#fff"/>
<text x="234.5" y="235.8" font-size="12" letter-spacing="1" text-anchor="middle" fill="#000">JP8A</text>
<polygon points="230.7,238 230.7,240 232.6,249 233.9,258.5 235.1,258.5 236.4,249 238.3,240 238.3,238" fill="#000"/>
<polygon points="232.5,237.6 232.5,239.8 234.5,248.5 236.5,239.8 236.5,237.6" fill="#fff"/>
<rect x="167" y="260.5" width="41.5" height="17.5" rx="3.5" fill="#000"/>
<rect x="169" y="262" width="37.5" height="14" rx="2" fill="#fff"/>
<text x="187.25" y="273.55" font-size="12" letter-spacing="1" text-anchor="middle" fill="#000">JP8D</text>
<polygon points="205.5,265 207.5,265 213.5,266.8 224,267.75 224,269.65 213.5,270.6 207.5,272.4 205.5,272.4" fill="#000"/>
<polygon points="205.3,267 207.3,267 213.8,268.7 207.3,270.4 205.3,270.4" fill="#fff"/>
<rect x="225" y="260" width="14" height="19" fill="#000"/>
<rect x="230" y="261" width="1" height="16.8" fill="#fff"/>
<rect x="226.2" y="265.8" width="3.8" height="1.8" fill="#fff"/>
<rect x="226.2" y="270.9" width="3.8" height="1.7" fill="#fff"/>
<rect x="226.2" y="273.3" width="4.8" height="4.6" fill="#fff"/>
<rect x="226.9" y="273.9" width="2.8" height="2.8" fill="#000"/>
<rect x="227.5" y="274.6" width="1.6" height="1.3" fill="#fff"/>
<rect x="236.8" y="261" width="1" height="16.8" fill="#fff"/>
<rect x="233" y="265.8" width="3.8" height="1.8" fill="#fff"/>
<rect x="233" y="270.9" width="3.8" height="1.7" fill="#fff"/>
<rect x="233" y="273.3" width="4.8" height="4.6" fill="#fff"/>
<rect x="233.7" y="273.9" width="2.8" height="2.8" fill="#000"/>
<rect x="234.3" y="274.6" width="1.6" height="1.3" fill="#fff"/>
<rect x="226" y="306" width="14" height="19" fill="#000"/>
<rect x="231" y="307" width="1" height="16.8" fill="#fff"/>
<rect x="227.2" y="311.8" width="3.8" height="1.8" fill="#fff"/>
<rect x="227.2" y="316.9" width="3.8" height="1.7" fill="#fff"/>
<rect x="227.2" y="319.3" width="4.8" height="4.6" fill="#fff"/>
<rect x="227.9" y="319.9" width="2.8" height="2.8" fill="#000"/>
<rect x="228.5" y="320.6" width="1.6" height="1.3" fill="#fff"/>
<rect x="237.8" y="307" width="1" height="16.8" fill="#fff"/>
<rect x="234" y="311.8" width="3.8" height="1.8" fill="#fff"/>
<rect x="234" y="316.9" width="3.8" height="1.7" fill="#fff"/>
<rect x="234" y="319.3" width="4.8" height="4.6" fill="#fff"/>
<rect x="234.7" y="319.9" width="2.8" height="2.8" fill="#000"/>
<rect x="235.3" y="320.6" width="1.6" height="1.3" fill="#fff"/>
<rect x="168.5" y="307" width="41" height="18.5" rx="3.5" fill="#000"/>
<rect x="170.5" y="308.5" width="37" height="15" rx="2" fill="#fff"/>
<text x="188.5" y="320.55" font-size="12" letter-spacing="1" text-anchor="middle" fill="#000">JP8E</text>
<polygon points="206.5,312.3 208.5,312.3 214.5,314.1 224.5,315.05 224.5,316.95 214.5,317.9 208.5,319.7 206.5,319.7" fill="#000"/>
<polygon points="206.3,314.3 208.3,314.3 214.8,316 208.3,317.7 206.3,317.7" fill="#fff"/>
<rect x="215.3" y="344" width="42.7" height="19" rx="1" fill="#000"/>
<rect x="217.3" y="345.5" width="38.7" height="15.5" rx="0.5" fill="#fff"/>
<text x="236.15" y="357.8" font-size="12" letter-spacing="1" text-anchor="middle" fill="#000">JP8B</text>
<rect x="215.3" y="344" width="42.7" height="3" fill="#000"/>
<polygon points="232.4,346.5 232.4,345.5 233.4,342 235.2,327.2 236.8,327.2 238.6,342 239.6,345.5 239.6,346.5" fill="#000"/>
<rect x="235.5" y="343" width="1.1" height="4.7" fill="#fff"/>
</svg>
</body></html>
